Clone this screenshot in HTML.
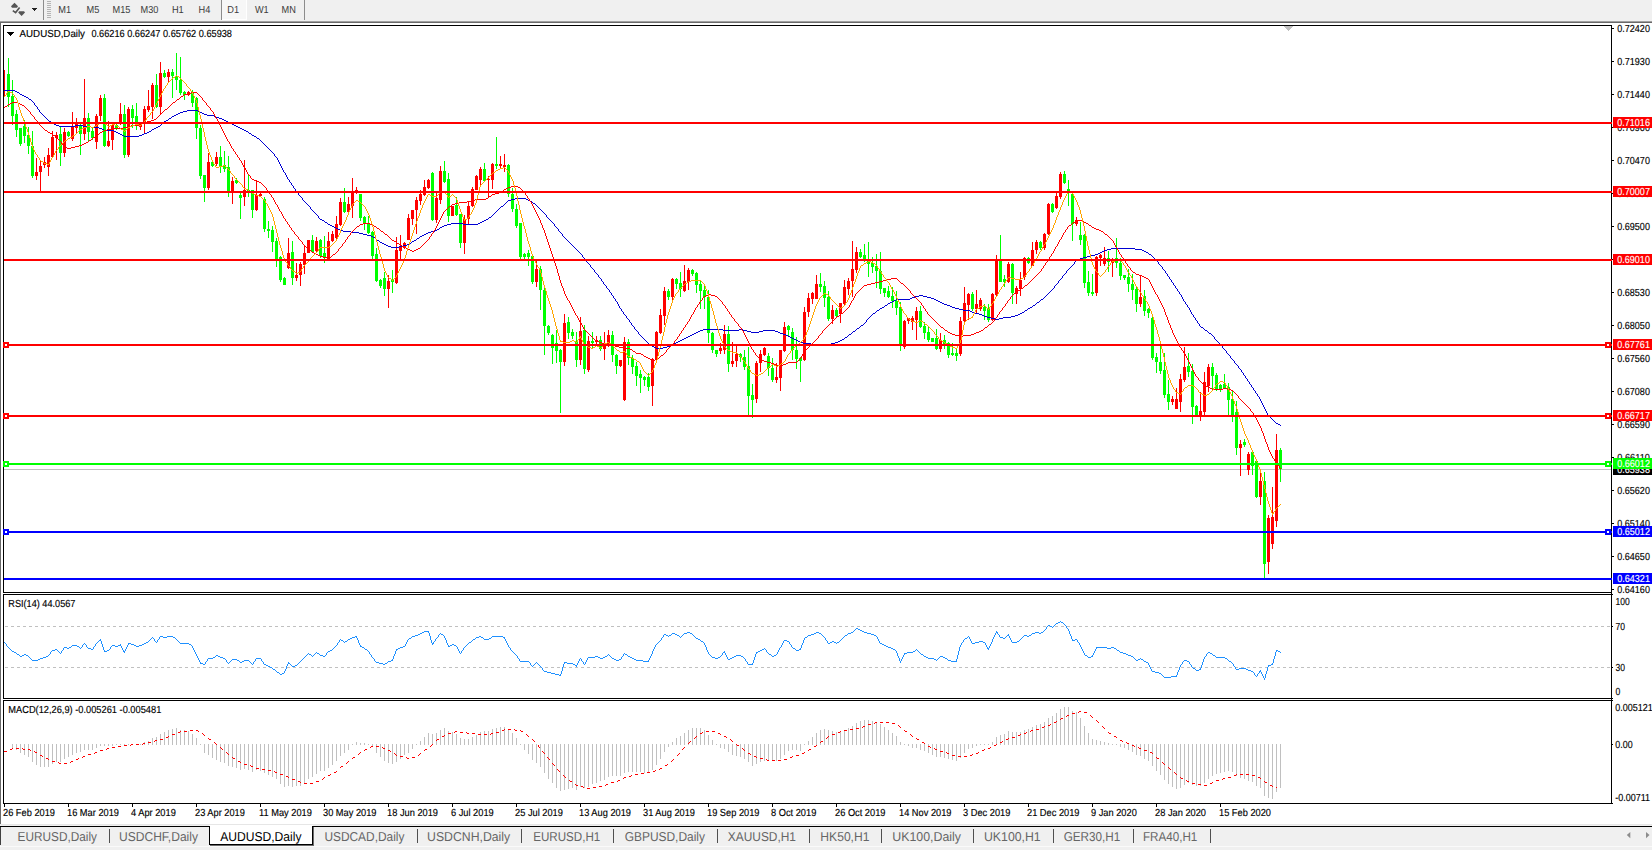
<!DOCTYPE html>
<html><head><meta charset="utf-8"><title>AUDUSD,Daily</title>
<style>
html,body{margin:0;padding:0;background:#fff;overflow:hidden}
svg{display:block;font-family:"Liberation Sans",sans-serif;text-rendering:geometricPrecision}
svg rect,svg polyline,svg line,svg path{shape-rendering:crispEdges}
</style></head><body>
<svg width="1652" height="850" viewBox="0 0 1652 850">
<rect x="0" y="0" width="1652" height="850" fill="#fff"/>
<rect x="0" y="0" width="1652" height="21" fill="#f0f0f0"/>
<rect x="0" y="21" width="1652" height="1" fill="#a0a0a0"/>
<rect x="0" y="22" width="1652" height="1" fill="#696969"/>
<rect x="43" y="0" width="1" height="20" fill="#8c8c8c"/>
<rect x="304" y="0" width="1" height="20" fill="#8c8c8c"/>
<rect x="47" y="1" width="4" height="1" fill="#b4b4b4"/>
<rect x="47" y="3" width="4" height="1" fill="#b4b4b4"/>
<rect x="47" y="5" width="4" height="1" fill="#b4b4b4"/>
<rect x="47" y="7" width="4" height="1" fill="#b4b4b4"/>
<rect x="47" y="9" width="4" height="1" fill="#b4b4b4"/>
<rect x="47" y="11" width="4" height="1" fill="#b4b4b4"/>
<rect x="47" y="13" width="4" height="1" fill="#b4b4b4"/>
<rect x="47" y="15" width="4" height="1" fill="#b4b4b4"/>
<rect x="47" y="17" width="4" height="1" fill="#b4b4b4"/>
<path d="M14.5,2.8 L18,6.3 L17,7.7 L12,7.7 L11,6.3 Z" fill="#555" style="shape-rendering:geometricPrecision"/>
<path d="M21.6,16 L18.2,12.5 L19.2,11.2 L24,11.2 L25,12.5 Z" fill="#555" style="shape-rendering:geometricPrecision"/>
<path d="M12.8,10.6 L15.6,12.6 L19.6,7.5" fill="none" stroke="#555" stroke-width="1.6" style="shape-rendering:geometricPrecision"/>
<path d="M32,8 L37,8 L34.5,11 Z" fill="#222"/>
<rect x="221" y="0" width="1" height="20" fill="#8c8c8c"/>
<rect x="222" y="0" width="24" height="19" fill="#f7f7f7"/>
<rect x="222" y="19" width="25" height="1" fill="#fff"/>
<rect x="246" y="0" width="1" height="20" fill="#fff"/>
<text x="58.3" y="13" font-size="10.2" fill="#3c3c3c" textLength="12.8" lengthAdjust="spacingAndGlyphs">M1</text>
<text x="86.6" y="13" font-size="10.2" fill="#3c3c3c" textLength="12.8" lengthAdjust="spacingAndGlyphs">M5</text>
<text x="112.5" y="13" font-size="10.2" fill="#3c3c3c" textLength="17.9" lengthAdjust="spacingAndGlyphs">M15</text>
<text x="140.5" y="13" font-size="10.2" fill="#3c3c3c" textLength="17.9" lengthAdjust="spacingAndGlyphs">M30</text>
<text x="171.9" y="13" font-size="10.2" fill="#3c3c3c" textLength="11.8" lengthAdjust="spacingAndGlyphs">H1</text>
<text x="198.5" y="13" font-size="10.2" fill="#3c3c3c" textLength="11.8" lengthAdjust="spacingAndGlyphs">H4</text>
<text x="227.3" y="13" font-size="10.2" fill="#3c3c3c" textLength="11.8" lengthAdjust="spacingAndGlyphs">D1</text>
<text x="254.9" y="13" font-size="10.2" fill="#3c3c3c" textLength="13.8" lengthAdjust="spacingAndGlyphs">W1</text>
<text x="281.5" y="13" font-size="10.2" fill="#3c3c3c" textLength="14.3" lengthAdjust="spacingAndGlyphs">MN</text>
<rect x="0" y="23" width="1" height="801" fill="#696969"/>
<rect x="3" y="25" width="1609" height="1" fill="#000"/>
<rect x="3" y="25" width="1" height="568" fill="#000"/>
<rect x="3" y="592" width="1609" height="1" fill="#000"/>
<rect x="3" y="594" width="1609" height="1" fill="#000"/>
<rect x="3" y="594" width="1" height="105" fill="#000"/>
<rect x="3" y="698" width="1609" height="1" fill="#000"/>
<rect x="3" y="700" width="1609" height="1" fill="#000"/>
<rect x="3" y="700" width="1" height="104" fill="#000"/>
<rect x="3" y="803" width="1609" height="1" fill="#000"/>
<rect x="1611" y="25" width="1" height="779" fill="#000"/>
<path d="M1284,26 L1293,26 L1288.5,31 Z" fill="#c0c0c0"/>
<rect x="1612" y="28" width="2" height="1" fill="#000"/>
<text x="1617.3" y="32" font-size="10.2" fill="#000" stroke="#000" stroke-width="0.15" textLength="32.6" lengthAdjust="spacingAndGlyphs">0.72420</text>
<rect x="1612" y="61" width="2" height="1" fill="#000"/>
<text x="1617.3" y="65" font-size="10.2" fill="#000" stroke="#000" stroke-width="0.15" textLength="32.6" lengthAdjust="spacingAndGlyphs">0.71930</text>
<rect x="1612" y="94" width="2" height="1" fill="#000"/>
<text x="1617.3" y="98" font-size="10.2" fill="#000" stroke="#000" stroke-width="0.15" textLength="32.6" lengthAdjust="spacingAndGlyphs">0.71440</text>
<rect x="1612" y="127" width="2" height="1" fill="#000"/>
<text x="1617.3" y="131" font-size="10.2" fill="#000" stroke="#000" stroke-width="0.15" textLength="32.6" lengthAdjust="spacingAndGlyphs">0.70960</text>
<rect x="1612" y="160" width="2" height="1" fill="#000"/>
<text x="1617.3" y="164" font-size="10.2" fill="#000" stroke="#000" stroke-width="0.15" textLength="32.6" lengthAdjust="spacingAndGlyphs">0.70470</text>
<rect x="1612" y="193" width="2" height="1" fill="#000"/>
<text x="1617.3" y="197" font-size="10.2" fill="#000" stroke="#000" stroke-width="0.15" textLength="32.6" lengthAdjust="spacingAndGlyphs">0.69990</text>
<rect x="1612" y="226" width="2" height="1" fill="#000"/>
<text x="1617.3" y="230" font-size="10.2" fill="#000" stroke="#000" stroke-width="0.15" textLength="32.6" lengthAdjust="spacingAndGlyphs">0.69500</text>
<rect x="1612" y="259" width="2" height="1" fill="#000"/>
<text x="1617.3" y="263" font-size="10.2" fill="#000" stroke="#000" stroke-width="0.15" textLength="32.6" lengthAdjust="spacingAndGlyphs">0.69010</text>
<rect x="1612" y="292" width="2" height="1" fill="#000"/>
<text x="1617.3" y="296" font-size="10.2" fill="#000" stroke="#000" stroke-width="0.15" textLength="32.6" lengthAdjust="spacingAndGlyphs">0.68530</text>
<rect x="1612" y="325" width="2" height="1" fill="#000"/>
<text x="1617.3" y="329" font-size="10.2" fill="#000" stroke="#000" stroke-width="0.15" textLength="32.6" lengthAdjust="spacingAndGlyphs">0.68050</text>
<rect x="1612" y="358" width="2" height="1" fill="#000"/>
<text x="1617.3" y="362" font-size="10.2" fill="#000" stroke="#000" stroke-width="0.15" textLength="32.6" lengthAdjust="spacingAndGlyphs">0.67560</text>
<rect x="1612" y="391" width="2" height="1" fill="#000"/>
<text x="1617.3" y="395" font-size="10.2" fill="#000" stroke="#000" stroke-width="0.15" textLength="32.6" lengthAdjust="spacingAndGlyphs">0.67080</text>
<rect x="1612" y="424" width="2" height="1" fill="#000"/>
<text x="1617.3" y="428" font-size="10.2" fill="#000" stroke="#000" stroke-width="0.15" textLength="32.6" lengthAdjust="spacingAndGlyphs">0.66590</text>
<rect x="1612" y="457" width="2" height="1" fill="#000"/>
<text x="1617.3" y="461" font-size="10.2" fill="#000" stroke="#000" stroke-width="0.15" textLength="32.6" lengthAdjust="spacingAndGlyphs">0.66110</text>
<rect x="1612" y="490" width="2" height="1" fill="#000"/>
<text x="1617.3" y="494" font-size="10.2" fill="#000" stroke="#000" stroke-width="0.15" textLength="32.6" lengthAdjust="spacingAndGlyphs">0.65620</text>
<rect x="1612" y="523" width="2" height="1" fill="#000"/>
<text x="1617.3" y="527" font-size="10.2" fill="#000" stroke="#000" stroke-width="0.15" textLength="32.6" lengthAdjust="spacingAndGlyphs">0.65140</text>
<rect x="1612" y="556" width="2" height="1" fill="#000"/>
<text x="1617.3" y="560" font-size="10.2" fill="#000" stroke="#000" stroke-width="0.15" textLength="32.6" lengthAdjust="spacingAndGlyphs">0.64650</text>
<rect x="1612" y="589" width="2" height="1" fill="#000"/>
<text x="1617.3" y="593" font-size="10.2" fill="#000" stroke="#000" stroke-width="0.15" textLength="32.6" lengthAdjust="spacingAndGlyphs">0.64160</text>
<rect x="4" y="469" width="1607" height="1" fill="#c0c0c0"/>
<rect x="4" y="70" width="1" height="26" fill="#ff0000"/>
<rect x="4" y="75" width="1" height="21" fill="#ff0000"/>
<rect x="8" y="58" width="1" height="49" fill="#00ff00"/>
<rect x="7" y="74" width="3" height="23" fill="#00ff00"/>
<rect x="12" y="80" width="1" height="45" fill="#00ff00"/>
<rect x="11" y="96" width="3" height="20" fill="#00ff00"/>
<rect x="16" y="110" width="1" height="27" fill="#00ff00"/>
<rect x="15" y="114" width="3" height="16" fill="#00ff00"/>
<rect x="20" y="128" width="1" height="18" fill="#00ff00"/>
<rect x="19" y="128" width="3" height="16" fill="#00ff00"/>
<rect x="24" y="120" width="1" height="23" fill="#00ff00"/>
<rect x="23" y="126" width="3" height="10" fill="#00ff00"/>
<rect x="28" y="127" width="1" height="27" fill="#00ff00"/>
<rect x="27" y="135" width="3" height="11" fill="#00ff00"/>
<rect x="32" y="131" width="1" height="47" fill="#00ff00"/>
<rect x="31" y="146" width="3" height="30" fill="#00ff00"/>
<rect x="36" y="158" width="1" height="22" fill="#ff0000"/>
<rect x="35" y="172" width="3" height="4" fill="#ff0000"/>
<rect x="40" y="160" width="1" height="32" fill="#ff0000"/>
<rect x="39" y="166" width="3" height="6" fill="#ff0000"/>
<rect x="44" y="157" width="1" height="11" fill="#ff0000"/>
<rect x="43" y="162" width="3" height="3" fill="#ff0000"/>
<rect x="48" y="148" width="1" height="28" fill="#ff0000"/>
<rect x="47" y="155" width="3" height="12" fill="#ff0000"/>
<rect x="52" y="131" width="1" height="27" fill="#ff0000"/>
<rect x="51" y="137" width="3" height="20" fill="#ff0000"/>
<rect x="56" y="132" width="1" height="28" fill="#ff0000"/>
<rect x="55" y="135" width="3" height="3" fill="#ff0000"/>
<rect x="60" y="127" width="1" height="39" fill="#00ff00"/>
<rect x="59" y="134" width="3" height="19" fill="#00ff00"/>
<rect x="64" y="128" width="1" height="29" fill="#ff0000"/>
<rect x="63" y="132" width="3" height="21" fill="#ff0000"/>
<rect x="68" y="131" width="1" height="6" fill="#00ff00"/>
<rect x="67" y="132" width="3" height="4" fill="#00ff00"/>
<rect x="72" y="112" width="1" height="29" fill="#ff0000"/>
<rect x="71" y="127" width="3" height="12" fill="#ff0000"/>
<rect x="76" y="118" width="1" height="16" fill="#ff0000"/>
<rect x="75" y="124" width="3" height="4" fill="#ff0000"/>
<rect x="80" y="124" width="1" height="31" fill="#00ff00"/>
<rect x="79" y="125" width="3" height="9" fill="#00ff00"/>
<rect x="84" y="79" width="1" height="61" fill="#ff0000"/>
<rect x="83" y="118" width="3" height="16" fill="#ff0000"/>
<rect x="88" y="113" width="1" height="28" fill="#00ff00"/>
<rect x="87" y="118" width="3" height="14" fill="#00ff00"/>
<rect x="92" y="128" width="1" height="12" fill="#00ff00"/>
<rect x="91" y="131" width="3" height="7" fill="#00ff00"/>
<rect x="96" y="114" width="1" height="35" fill="#ff0000"/>
<rect x="95" y="116" width="3" height="26" fill="#ff0000"/>
<rect x="100" y="95" width="1" height="26" fill="#ff0000"/>
<rect x="99" y="98" width="3" height="18" fill="#ff0000"/>
<rect x="104" y="94" width="1" height="53" fill="#00ff00"/>
<rect x="103" y="98" width="3" height="48" fill="#00ff00"/>
<rect x="108" y="121" width="1" height="26" fill="#ff0000"/>
<rect x="107" y="141" width="3" height="5" fill="#ff0000"/>
<rect x="112" y="123" width="1" height="27" fill="#ff0000"/>
<rect x="111" y="125" width="3" height="15" fill="#ff0000"/>
<rect x="116" y="123" width="1" height="7" fill="#00ff00"/>
<rect x="115" y="125" width="3" height="3" fill="#00ff00"/>
<rect x="120" y="103" width="1" height="22" fill="#ff0000"/>
<rect x="119" y="114" width="3" height="10" fill="#ff0000"/>
<rect x="124" y="105" width="1" height="53" fill="#00ff00"/>
<rect x="123" y="114" width="3" height="41" fill="#00ff00"/>
<rect x="128" y="107" width="1" height="50" fill="#ff0000"/>
<rect x="127" y="109" width="3" height="46" fill="#ff0000"/>
<rect x="132" y="105" width="1" height="23" fill="#00ff00"/>
<rect x="131" y="109" width="3" height="9" fill="#00ff00"/>
<rect x="136" y="103" width="1" height="27" fill="#00ff00"/>
<rect x="135" y="116" width="3" height="7" fill="#00ff00"/>
<rect x="140" y="123" width="1" height="7" fill="#ff0000"/>
<rect x="139" y="124" width="3" height="3" fill="#ff0000"/>
<rect x="144" y="106" width="1" height="28" fill="#ff0000"/>
<rect x="143" y="109" width="3" height="14" fill="#ff0000"/>
<rect x="148" y="90" width="1" height="22" fill="#ff0000"/>
<rect x="147" y="106" width="3" height="4" fill="#ff0000"/>
<rect x="152" y="83" width="1" height="36" fill="#ff0000"/>
<rect x="151" y="85" width="3" height="22" fill="#ff0000"/>
<rect x="156" y="74" width="1" height="34" fill="#00ff00"/>
<rect x="155" y="85" width="3" height="22" fill="#00ff00"/>
<rect x="160" y="62" width="1" height="53" fill="#ff0000"/>
<rect x="159" y="73" width="3" height="34" fill="#ff0000"/>
<rect x="164" y="70" width="1" height="8" fill="#00ff00"/>
<rect x="163" y="73" width="3" height="4" fill="#00ff00"/>
<rect x="168" y="69" width="1" height="13" fill="#ff0000"/>
<rect x="167" y="72" width="3" height="5" fill="#ff0000"/>
<rect x="172" y="69" width="1" height="29" fill="#00ff00"/>
<rect x="171" y="72" width="3" height="4" fill="#00ff00"/>
<rect x="176" y="53" width="1" height="37" fill="#00ff00"/>
<rect x="175" y="76" width="3" height="4" fill="#00ff00"/>
<rect x="180" y="57" width="1" height="38" fill="#00ff00"/>
<rect x="179" y="80" width="3" height="13" fill="#00ff00"/>
<rect x="184" y="91" width="1" height="9" fill="#00ff00"/>
<rect x="183" y="92" width="3" height="3" fill="#00ff00"/>
<rect x="188" y="91" width="1" height="5" fill="#ff0000"/>
<rect x="187" y="92" width="3" height="3" fill="#ff0000"/>
<rect x="192" y="90" width="1" height="17" fill="#00ff00"/>
<rect x="191" y="93" width="3" height="10" fill="#00ff00"/>
<rect x="196" y="97" width="1" height="42" fill="#00ff00"/>
<rect x="195" y="98" width="3" height="30" fill="#00ff00"/>
<rect x="200" y="125" width="1" height="54" fill="#00ff00"/>
<rect x="199" y="128" width="3" height="48" fill="#00ff00"/>
<rect x="204" y="175" width="1" height="27" fill="#00ff00"/>
<rect x="203" y="175" width="3" height="13" fill="#00ff00"/>
<rect x="208" y="153" width="1" height="37" fill="#ff0000"/>
<rect x="207" y="162" width="3" height="26" fill="#ff0000"/>
<rect x="212" y="160" width="1" height="7" fill="#00ff00"/>
<rect x="211" y="162" width="3" height="4" fill="#00ff00"/>
<rect x="216" y="152" width="1" height="14" fill="#ff0000"/>
<rect x="215" y="157" width="3" height="7" fill="#ff0000"/>
<rect x="220" y="146" width="1" height="27" fill="#00ff00"/>
<rect x="219" y="157" width="3" height="10" fill="#00ff00"/>
<rect x="224" y="151" width="1" height="21" fill="#00ff00"/>
<rect x="223" y="165" width="3" height="4" fill="#00ff00"/>
<rect x="228" y="156" width="1" height="41" fill="#00ff00"/>
<rect x="227" y="167" width="3" height="24" fill="#00ff00"/>
<rect x="232" y="177" width="1" height="27" fill="#ff0000"/>
<rect x="231" y="181" width="3" height="10" fill="#ff0000"/>
<rect x="236" y="178" width="1" height="6" fill="#00ff00"/>
<rect x="235" y="180" width="3" height="3" fill="#00ff00"/>
<rect x="240" y="192" width="1" height="27" fill="#00ff00"/>
<rect x="239" y="195" width="3" height="3" fill="#00ff00"/>
<rect x="244" y="160" width="1" height="46" fill="#ff0000"/>
<rect x="243" y="190" width="3" height="7" fill="#ff0000"/>
<rect x="248" y="174" width="1" height="23" fill="#00ff00"/>
<rect x="247" y="190" width="3" height="2" fill="#00ff00"/>
<rect x="252" y="190" width="1" height="28" fill="#00ff00"/>
<rect x="251" y="190" width="3" height="20" fill="#00ff00"/>
<rect x="256" y="180" width="1" height="31" fill="#ff0000"/>
<rect x="255" y="195" width="3" height="15" fill="#ff0000"/>
<rect x="260" y="193" width="1" height="4" fill="#ff0000"/>
<rect x="259" y="194" width="3" height="2" fill="#ff0000"/>
<rect x="264" y="197" width="1" height="35" fill="#00ff00"/>
<rect x="263" y="199" width="3" height="30" fill="#00ff00"/>
<rect x="268" y="221" width="1" height="17" fill="#00ff00"/>
<rect x="267" y="229" width="3" height="2" fill="#00ff00"/>
<rect x="272" y="226" width="1" height="26" fill="#00ff00"/>
<rect x="271" y="230" width="3" height="12" fill="#00ff00"/>
<rect x="276" y="238" width="1" height="29" fill="#00ff00"/>
<rect x="275" y="241" width="3" height="18" fill="#00ff00"/>
<rect x="280" y="256" width="1" height="26" fill="#00ff00"/>
<rect x="279" y="257" width="3" height="23" fill="#00ff00"/>
<rect x="284" y="277" width="1" height="8" fill="#00ff00"/>
<rect x="283" y="278" width="3" height="7" fill="#00ff00"/>
<rect x="288" y="238" width="1" height="31" fill="#ff0000"/>
<rect x="287" y="253" width="3" height="15" fill="#ff0000"/>
<rect x="292" y="241" width="1" height="44" fill="#00ff00"/>
<rect x="291" y="252" width="3" height="26" fill="#00ff00"/>
<rect x="296" y="263" width="1" height="18" fill="#ff0000"/>
<rect x="295" y="275" width="3" height="3" fill="#ff0000"/>
<rect x="300" y="262" width="1" height="24" fill="#ff0000"/>
<rect x="299" y="264" width="3" height="11" fill="#ff0000"/>
<rect x="304" y="246" width="1" height="28" fill="#ff0000"/>
<rect x="303" y="253" width="3" height="12" fill="#ff0000"/>
<rect x="308" y="240" width="1" height="13" fill="#ff0000"/>
<rect x="307" y="240" width="3" height="13" fill="#ff0000"/>
<rect x="312" y="235" width="1" height="18" fill="#00ff00"/>
<rect x="311" y="240" width="3" height="12" fill="#00ff00"/>
<rect x="316" y="237" width="1" height="15" fill="#ff0000"/>
<rect x="315" y="241" width="3" height="10" fill="#ff0000"/>
<rect x="320" y="239" width="1" height="19" fill="#00ff00"/>
<rect x="319" y="240" width="3" height="16" fill="#00ff00"/>
<rect x="324" y="236" width="1" height="27" fill="#00ff00"/>
<rect x="323" y="253" width="3" height="5" fill="#00ff00"/>
<rect x="328" y="232" width="1" height="27" fill="#ff0000"/>
<rect x="327" y="241" width="3" height="18" fill="#ff0000"/>
<rect x="332" y="231" width="1" height="11" fill="#ff0000"/>
<rect x="331" y="234" width="3" height="7" fill="#ff0000"/>
<rect x="336" y="216" width="1" height="24" fill="#ff0000"/>
<rect x="335" y="224" width="3" height="14" fill="#ff0000"/>
<rect x="340" y="198" width="1" height="28" fill="#ff0000"/>
<rect x="339" y="202" width="3" height="23" fill="#ff0000"/>
<rect x="344" y="188" width="1" height="25" fill="#00ff00"/>
<rect x="343" y="202" width="3" height="10" fill="#00ff00"/>
<rect x="348" y="197" width="1" height="17" fill="#ff0000"/>
<rect x="347" y="204" width="3" height="8" fill="#ff0000"/>
<rect x="352" y="178" width="1" height="40" fill="#ff0000"/>
<rect x="351" y="192" width="3" height="14" fill="#ff0000"/>
<rect x="356" y="187" width="1" height="7" fill="#ff0000"/>
<rect x="355" y="190" width="3" height="2" fill="#ff0000"/>
<rect x="360" y="194" width="1" height="27" fill="#00ff00"/>
<rect x="359" y="194" width="3" height="24" fill="#00ff00"/>
<rect x="364" y="216" width="1" height="14" fill="#00ff00"/>
<rect x="363" y="217" width="3" height="7" fill="#00ff00"/>
<rect x="368" y="216" width="1" height="18" fill="#00ff00"/>
<rect x="367" y="224" width="3" height="9" fill="#00ff00"/>
<rect x="372" y="231" width="1" height="28" fill="#00ff00"/>
<rect x="371" y="232" width="3" height="24" fill="#00ff00"/>
<rect x="376" y="248" width="1" height="34" fill="#00ff00"/>
<rect x="375" y="254" width="3" height="27" fill="#00ff00"/>
<rect x="380" y="279" width="1" height="9" fill="#00ff00"/>
<rect x="379" y="280" width="3" height="6" fill="#00ff00"/>
<rect x="384" y="272" width="1" height="24" fill="#00ff00"/>
<rect x="383" y="278" width="3" height="11" fill="#00ff00"/>
<rect x="388" y="275" width="1" height="33" fill="#ff0000"/>
<rect x="387" y="281" width="3" height="8" fill="#ff0000"/>
<rect x="392" y="270" width="1" height="23" fill="#00ff00"/>
<rect x="391" y="280" width="3" height="2" fill="#00ff00"/>
<rect x="396" y="237" width="1" height="47" fill="#ff0000"/>
<rect x="395" y="250" width="3" height="33" fill="#ff0000"/>
<rect x="400" y="235" width="1" height="24" fill="#ff0000"/>
<rect x="399" y="246" width="3" height="5" fill="#ff0000"/>
<rect x="404" y="242" width="1" height="7" fill="#ff0000"/>
<rect x="403" y="243" width="3" height="5" fill="#ff0000"/>
<rect x="408" y="214" width="1" height="26" fill="#ff0000"/>
<rect x="407" y="218" width="3" height="22" fill="#ff0000"/>
<rect x="412" y="210" width="1" height="15" fill="#ff0000"/>
<rect x="411" y="210" width="3" height="9" fill="#ff0000"/>
<rect x="416" y="197" width="1" height="37" fill="#ff0000"/>
<rect x="415" y="200" width="3" height="10" fill="#ff0000"/>
<rect x="420" y="190" width="1" height="15" fill="#ff0000"/>
<rect x="419" y="194" width="3" height="7" fill="#ff0000"/>
<rect x="424" y="180" width="1" height="16" fill="#ff0000"/>
<rect x="423" y="187" width="3" height="8" fill="#ff0000"/>
<rect x="428" y="179" width="1" height="10" fill="#ff0000"/>
<rect x="427" y="180" width="3" height="8" fill="#ff0000"/>
<rect x="432" y="172" width="1" height="49" fill="#00ff00"/>
<rect x="431" y="173" width="3" height="47" fill="#00ff00"/>
<rect x="436" y="192" width="1" height="31" fill="#ff0000"/>
<rect x="435" y="198" width="3" height="22" fill="#ff0000"/>
<rect x="440" y="166" width="1" height="38" fill="#ff0000"/>
<rect x="439" y="171" width="3" height="29" fill="#ff0000"/>
<rect x="444" y="161" width="1" height="22" fill="#00ff00"/>
<rect x="443" y="171" width="3" height="11" fill="#00ff00"/>
<rect x="448" y="173" width="1" height="49" fill="#00ff00"/>
<rect x="447" y="179" width="3" height="37" fill="#00ff00"/>
<rect x="452" y="206" width="1" height="10" fill="#ff0000"/>
<rect x="451" y="206" width="3" height="10" fill="#ff0000"/>
<rect x="456" y="197" width="1" height="19" fill="#00ff00"/>
<rect x="455" y="205" width="3" height="10" fill="#00ff00"/>
<rect x="460" y="214" width="1" height="34" fill="#00ff00"/>
<rect x="459" y="214" width="3" height="29" fill="#00ff00"/>
<rect x="464" y="215" width="1" height="39" fill="#ff0000"/>
<rect x="463" y="219" width="3" height="24" fill="#ff0000"/>
<rect x="468" y="201" width="1" height="23" fill="#ff0000"/>
<rect x="467" y="206" width="3" height="13" fill="#ff0000"/>
<rect x="472" y="187" width="1" height="20" fill="#ff0000"/>
<rect x="471" y="189" width="3" height="17" fill="#ff0000"/>
<rect x="476" y="175" width="1" height="15" fill="#ff0000"/>
<rect x="475" y="176" width="3" height="14" fill="#ff0000"/>
<rect x="480" y="167" width="1" height="19" fill="#ff0000"/>
<rect x="479" y="169" width="3" height="11" fill="#ff0000"/>
<rect x="484" y="163" width="1" height="19" fill="#00ff00"/>
<rect x="483" y="169" width="3" height="12" fill="#00ff00"/>
<rect x="488" y="176" width="1" height="22" fill="#ff0000"/>
<rect x="487" y="179" width="3" height="1" fill="#ff0000"/>
<rect x="492" y="163" width="1" height="26" fill="#ff0000"/>
<rect x="491" y="164" width="3" height="16" fill="#ff0000"/>
<rect x="496" y="137" width="1" height="32" fill="#00ff00"/>
<rect x="495" y="164" width="3" height="2" fill="#00ff00"/>
<rect x="500" y="156" width="1" height="13" fill="#ff0000"/>
<rect x="499" y="164" width="3" height="2" fill="#ff0000"/>
<rect x="504" y="154" width="1" height="18" fill="#ff0000"/>
<rect x="503" y="165" width="3" height="2" fill="#ff0000"/>
<rect x="508" y="164" width="1" height="33" fill="#00ff00"/>
<rect x="507" y="165" width="3" height="29" fill="#00ff00"/>
<rect x="512" y="188" width="1" height="24" fill="#00ff00"/>
<rect x="511" y="194" width="3" height="15" fill="#00ff00"/>
<rect x="516" y="204" width="1" height="24" fill="#00ff00"/>
<rect x="515" y="209" width="3" height="17" fill="#00ff00"/>
<rect x="520" y="223" width="1" height="36" fill="#00ff00"/>
<rect x="519" y="223" width="3" height="34" fill="#00ff00"/>
<rect x="524" y="253" width="1" height="6" fill="#00ff00"/>
<rect x="523" y="254" width="3" height="3" fill="#00ff00"/>
<rect x="528" y="250" width="1" height="16" fill="#00ff00"/>
<rect x="527" y="253" width="3" height="4" fill="#00ff00"/>
<rect x="532" y="255" width="1" height="29" fill="#00ff00"/>
<rect x="531" y="256" width="3" height="26" fill="#00ff00"/>
<rect x="536" y="260" width="1" height="27" fill="#ff0000"/>
<rect x="535" y="269" width="3" height="13" fill="#ff0000"/>
<rect x="540" y="266" width="1" height="44" fill="#00ff00"/>
<rect x="539" y="269" width="3" height="21" fill="#00ff00"/>
<rect x="544" y="287" width="1" height="68" fill="#00ff00"/>
<rect x="543" y="290" width="3" height="36" fill="#00ff00"/>
<rect x="548" y="325" width="1" height="10" fill="#00ff00"/>
<rect x="547" y="326" width="3" height="7" fill="#00ff00"/>
<rect x="552" y="334" width="1" height="30" fill="#00ff00"/>
<rect x="551" y="335" width="3" height="13" fill="#00ff00"/>
<rect x="556" y="330" width="1" height="33" fill="#00ff00"/>
<rect x="555" y="343" width="3" height="8" fill="#00ff00"/>
<rect x="560" y="349" width="1" height="64" fill="#00ff00"/>
<rect x="559" y="350" width="3" height="12" fill="#00ff00"/>
<rect x="564" y="314" width="1" height="52" fill="#ff0000"/>
<rect x="563" y="323" width="3" height="39" fill="#ff0000"/>
<rect x="568" y="317" width="1" height="22" fill="#00ff00"/>
<rect x="567" y="322" width="3" height="11" fill="#00ff00"/>
<rect x="572" y="329" width="1" height="10" fill="#00ff00"/>
<rect x="571" y="332" width="3" height="4" fill="#00ff00"/>
<rect x="576" y="332" width="1" height="35" fill="#00ff00"/>
<rect x="575" y="341" width="3" height="19" fill="#00ff00"/>
<rect x="580" y="317" width="1" height="48" fill="#ff0000"/>
<rect x="579" y="331" width="3" height="29" fill="#ff0000"/>
<rect x="584" y="325" width="1" height="49" fill="#00ff00"/>
<rect x="583" y="330" width="3" height="39" fill="#00ff00"/>
<rect x="588" y="336" width="1" height="36" fill="#ff0000"/>
<rect x="587" y="341" width="3" height="29" fill="#ff0000"/>
<rect x="592" y="332" width="1" height="17" fill="#00ff00"/>
<rect x="591" y="341" width="3" height="2" fill="#00ff00"/>
<rect x="596" y="336" width="1" height="8" fill="#ff0000"/>
<rect x="595" y="340" width="3" height="2" fill="#ff0000"/>
<rect x="600" y="336" width="1" height="15" fill="#00ff00"/>
<rect x="599" y="340" width="3" height="9" fill="#00ff00"/>
<rect x="604" y="332" width="1" height="28" fill="#ff0000"/>
<rect x="603" y="344" width="3" height="5" fill="#ff0000"/>
<rect x="608" y="330" width="1" height="17" fill="#ff0000"/>
<rect x="607" y="335" width="3" height="9" fill="#ff0000"/>
<rect x="612" y="331" width="1" height="31" fill="#00ff00"/>
<rect x="611" y="335" width="3" height="20" fill="#00ff00"/>
<rect x="616" y="354" width="1" height="20" fill="#00ff00"/>
<rect x="615" y="355" width="3" height="11" fill="#00ff00"/>
<rect x="620" y="360" width="1" height="7" fill="#ff0000"/>
<rect x="619" y="360" width="3" height="6" fill="#ff0000"/>
<rect x="624" y="337" width="1" height="64" fill="#ff0000"/>
<rect x="623" y="342" width="3" height="58" fill="#ff0000"/>
<rect x="628" y="339" width="1" height="26" fill="#00ff00"/>
<rect x="627" y="342" width="3" height="16" fill="#00ff00"/>
<rect x="632" y="355" width="1" height="19" fill="#00ff00"/>
<rect x="631" y="358" width="3" height="9" fill="#00ff00"/>
<rect x="636" y="362" width="1" height="24" fill="#00ff00"/>
<rect x="635" y="366" width="3" height="10" fill="#00ff00"/>
<rect x="640" y="370" width="1" height="23" fill="#00ff00"/>
<rect x="639" y="374" width="3" height="4" fill="#00ff00"/>
<rect x="644" y="376" width="1" height="10" fill="#00ff00"/>
<rect x="643" y="377" width="3" height="3" fill="#00ff00"/>
<rect x="648" y="373" width="1" height="18" fill="#00ff00"/>
<rect x="647" y="377" width="3" height="10" fill="#00ff00"/>
<rect x="652" y="358" width="1" height="48" fill="#ff0000"/>
<rect x="651" y="359" width="3" height="27" fill="#ff0000"/>
<rect x="656" y="331" width="1" height="31" fill="#ff0000"/>
<rect x="655" y="332" width="3" height="27" fill="#ff0000"/>
<rect x="660" y="309" width="1" height="25" fill="#ff0000"/>
<rect x="659" y="315" width="3" height="18" fill="#ff0000"/>
<rect x="664" y="287" width="1" height="38" fill="#ff0000"/>
<rect x="663" y="291" width="3" height="25" fill="#ff0000"/>
<rect x="668" y="289" width="1" height="11" fill="#00ff00"/>
<rect x="667" y="291" width="3" height="6" fill="#00ff00"/>
<rect x="672" y="278" width="1" height="24" fill="#ff0000"/>
<rect x="671" y="279" width="3" height="18" fill="#ff0000"/>
<rect x="676" y="278" width="1" height="11" fill="#00ff00"/>
<rect x="675" y="279" width="3" height="5" fill="#00ff00"/>
<rect x="680" y="272" width="1" height="25" fill="#00ff00"/>
<rect x="679" y="283" width="3" height="6" fill="#00ff00"/>
<rect x="684" y="265" width="1" height="27" fill="#ff0000"/>
<rect x="683" y="281" width="3" height="10" fill="#ff0000"/>
<rect x="688" y="268" width="1" height="22" fill="#ff0000"/>
<rect x="687" y="270" width="3" height="12" fill="#ff0000"/>
<rect x="692" y="269" width="1" height="7" fill="#00ff00"/>
<rect x="691" y="270" width="3" height="4" fill="#00ff00"/>
<rect x="696" y="272" width="1" height="21" fill="#00ff00"/>
<rect x="695" y="273" width="3" height="12" fill="#00ff00"/>
<rect x="700" y="281" width="1" height="28" fill="#00ff00"/>
<rect x="699" y="284" width="3" height="7" fill="#00ff00"/>
<rect x="704" y="284" width="1" height="25" fill="#00ff00"/>
<rect x="703" y="290" width="3" height="7" fill="#00ff00"/>
<rect x="708" y="290" width="1" height="53" fill="#00ff00"/>
<rect x="707" y="297" width="3" height="36" fill="#00ff00"/>
<rect x="712" y="332" width="1" height="21" fill="#00ff00"/>
<rect x="711" y="333" width="3" height="17" fill="#00ff00"/>
<rect x="716" y="350" width="1" height="7" fill="#00ff00"/>
<rect x="715" y="350" width="3" height="4" fill="#00ff00"/>
<rect x="720" y="343" width="1" height="11" fill="#ff0000"/>
<rect x="719" y="348" width="3" height="3" fill="#ff0000"/>
<rect x="724" y="325" width="1" height="29" fill="#ff0000"/>
<rect x="723" y="334" width="3" height="16" fill="#ff0000"/>
<rect x="728" y="326" width="1" height="46" fill="#00ff00"/>
<rect x="727" y="334" width="3" height="30" fill="#00ff00"/>
<rect x="732" y="342" width="1" height="25" fill="#ff0000"/>
<rect x="731" y="361" width="3" height="3" fill="#ff0000"/>
<rect x="736" y="344" width="1" height="23" fill="#ff0000"/>
<rect x="735" y="354" width="3" height="7" fill="#ff0000"/>
<rect x="740" y="353" width="1" height="9" fill="#00ff00"/>
<rect x="739" y="354" width="3" height="3" fill="#00ff00"/>
<rect x="744" y="350" width="1" height="20" fill="#00ff00"/>
<rect x="743" y="357" width="3" height="10" fill="#00ff00"/>
<rect x="748" y="347" width="1" height="68" fill="#00ff00"/>
<rect x="747" y="366" width="3" height="30" fill="#00ff00"/>
<rect x="752" y="384" width="1" height="34" fill="#00ff00"/>
<rect x="751" y="395" width="3" height="5" fill="#00ff00"/>
<rect x="756" y="361" width="1" height="42" fill="#ff0000"/>
<rect x="755" y="363" width="3" height="36" fill="#ff0000"/>
<rect x="760" y="350" width="1" height="22" fill="#ff0000"/>
<rect x="759" y="354" width="3" height="9" fill="#ff0000"/>
<rect x="764" y="347" width="1" height="9" fill="#ff0000"/>
<rect x="763" y="348" width="3" height="7" fill="#ff0000"/>
<rect x="768" y="353" width="1" height="23" fill="#00ff00"/>
<rect x="767" y="356" width="3" height="12" fill="#00ff00"/>
<rect x="772" y="358" width="1" height="24" fill="#00ff00"/>
<rect x="771" y="368" width="3" height="12" fill="#00ff00"/>
<rect x="776" y="363" width="1" height="20" fill="#ff0000"/>
<rect x="775" y="377" width="3" height="3" fill="#ff0000"/>
<rect x="780" y="350" width="1" height="41" fill="#ff0000"/>
<rect x="779" y="350" width="3" height="28" fill="#ff0000"/>
<rect x="784" y="322" width="1" height="30" fill="#ff0000"/>
<rect x="783" y="327" width="3" height="24" fill="#ff0000"/>
<rect x="788" y="325" width="1" height="12" fill="#00ff00"/>
<rect x="787" y="326" width="3" height="4" fill="#00ff00"/>
<rect x="792" y="328" width="1" height="32" fill="#00ff00"/>
<rect x="791" y="332" width="3" height="18" fill="#00ff00"/>
<rect x="796" y="337" width="1" height="32" fill="#00ff00"/>
<rect x="795" y="350" width="3" height="9" fill="#00ff00"/>
<rect x="800" y="357" width="1" height="25" fill="#00ff00"/>
<rect x="799" y="358" width="3" height="3" fill="#00ff00"/>
<rect x="804" y="307" width="1" height="54" fill="#ff0000"/>
<rect x="803" y="312" width="3" height="48" fill="#ff0000"/>
<rect x="808" y="293" width="1" height="24" fill="#ff0000"/>
<rect x="807" y="298" width="3" height="14" fill="#ff0000"/>
<rect x="812" y="292" width="1" height="12" fill="#ff0000"/>
<rect x="811" y="293" width="3" height="6" fill="#ff0000"/>
<rect x="816" y="275" width="1" height="24" fill="#ff0000"/>
<rect x="815" y="284" width="3" height="15" fill="#ff0000"/>
<rect x="820" y="273" width="1" height="19" fill="#00ff00"/>
<rect x="819" y="284" width="3" height="3" fill="#00ff00"/>
<rect x="824" y="281" width="1" height="26" fill="#00ff00"/>
<rect x="823" y="286" width="3" height="12" fill="#00ff00"/>
<rect x="828" y="291" width="1" height="30" fill="#00ff00"/>
<rect x="827" y="297" width="3" height="22" fill="#00ff00"/>
<rect x="832" y="305" width="1" height="19" fill="#ff0000"/>
<rect x="831" y="310" width="3" height="9" fill="#ff0000"/>
<rect x="836" y="308" width="1" height="9" fill="#00ff00"/>
<rect x="835" y="310" width="3" height="6" fill="#00ff00"/>
<rect x="840" y="303" width="1" height="20" fill="#ff0000"/>
<rect x="839" y="303" width="3" height="11" fill="#ff0000"/>
<rect x="844" y="280" width="1" height="25" fill="#ff0000"/>
<rect x="843" y="287" width="3" height="17" fill="#ff0000"/>
<rect x="848" y="278" width="1" height="17" fill="#ff0000"/>
<rect x="847" y="281" width="3" height="8" fill="#ff0000"/>
<rect x="852" y="241" width="1" height="56" fill="#ff0000"/>
<rect x="851" y="269" width="3" height="12" fill="#ff0000"/>
<rect x="856" y="247" width="1" height="26" fill="#ff0000"/>
<rect x="855" y="252" width="3" height="18" fill="#ff0000"/>
<rect x="860" y="249" width="1" height="9" fill="#00ff00"/>
<rect x="859" y="252" width="3" height="5" fill="#00ff00"/>
<rect x="864" y="244" width="1" height="18" fill="#00ff00"/>
<rect x="863" y="255" width="3" height="5" fill="#00ff00"/>
<rect x="868" y="242" width="1" height="35" fill="#00ff00"/>
<rect x="867" y="260" width="3" height="4" fill="#00ff00"/>
<rect x="872" y="257" width="1" height="16" fill="#00ff00"/>
<rect x="871" y="263" width="3" height="4" fill="#00ff00"/>
<rect x="876" y="254" width="1" height="34" fill="#00ff00"/>
<rect x="875" y="266" width="3" height="5" fill="#00ff00"/>
<rect x="880" y="252" width="1" height="42" fill="#00ff00"/>
<rect x="879" y="271" width="3" height="18" fill="#00ff00"/>
<rect x="884" y="288" width="1" height="9" fill="#00ff00"/>
<rect x="883" y="288" width="3" height="5" fill="#00ff00"/>
<rect x="888" y="286" width="1" height="12" fill="#00ff00"/>
<rect x="887" y="291" width="3" height="6" fill="#00ff00"/>
<rect x="892" y="287" width="1" height="21" fill="#00ff00"/>
<rect x="891" y="296" width="3" height="5" fill="#00ff00"/>
<rect x="896" y="291" width="1" height="24" fill="#00ff00"/>
<rect x="895" y="301" width="3" height="7" fill="#00ff00"/>
<rect x="900" y="302" width="1" height="49" fill="#00ff00"/>
<rect x="899" y="307" width="3" height="39" fill="#00ff00"/>
<rect x="904" y="320" width="1" height="29" fill="#ff0000"/>
<rect x="903" y="321" width="3" height="26" fill="#ff0000"/>
<rect x="908" y="318" width="1" height="6" fill="#ff0000"/>
<rect x="907" y="318" width="3" height="3" fill="#ff0000"/>
<rect x="912" y="316" width="1" height="14" fill="#ff0000"/>
<rect x="911" y="318" width="3" height="4" fill="#ff0000"/>
<rect x="916" y="307" width="1" height="33" fill="#ff0000"/>
<rect x="915" y="311" width="3" height="9" fill="#ff0000"/>
<rect x="920" y="306" width="1" height="22" fill="#00ff00"/>
<rect x="919" y="311" width="3" height="16" fill="#00ff00"/>
<rect x="924" y="322" width="1" height="17" fill="#00ff00"/>
<rect x="923" y="326" width="3" height="7" fill="#00ff00"/>
<rect x="928" y="326" width="1" height="16" fill="#00ff00"/>
<rect x="927" y="332" width="3" height="8" fill="#00ff00"/>
<rect x="932" y="338" width="1" height="4" fill="#00ff00"/>
<rect x="931" y="338" width="3" height="4" fill="#00ff00"/>
<rect x="936" y="329" width="1" height="21" fill="#00ff00"/>
<rect x="935" y="338" width="3" height="11" fill="#00ff00"/>
<rect x="940" y="333" width="1" height="19" fill="#ff0000"/>
<rect x="939" y="340" width="3" height="9" fill="#ff0000"/>
<rect x="944" y="335" width="1" height="14" fill="#00ff00"/>
<rect x="943" y="340" width="3" height="4" fill="#00ff00"/>
<rect x="948" y="342" width="1" height="16" fill="#00ff00"/>
<rect x="947" y="343" width="3" height="12" fill="#00ff00"/>
<rect x="952" y="343" width="1" height="13" fill="#00ff00"/>
<rect x="951" y="353" width="3" height="2" fill="#00ff00"/>
<rect x="956" y="348" width="1" height="13" fill="#00ff00"/>
<rect x="955" y="353" width="3" height="3" fill="#00ff00"/>
<rect x="960" y="317" width="1" height="39" fill="#ff0000"/>
<rect x="959" y="321" width="3" height="33" fill="#ff0000"/>
<rect x="964" y="287" width="1" height="35" fill="#ff0000"/>
<rect x="963" y="303" width="3" height="18" fill="#ff0000"/>
<rect x="968" y="293" width="1" height="27" fill="#ff0000"/>
<rect x="967" y="294" width="3" height="11" fill="#ff0000"/>
<rect x="972" y="292" width="1" height="19" fill="#00ff00"/>
<rect x="971" y="294" width="3" height="15" fill="#00ff00"/>
<rect x="976" y="290" width="1" height="24" fill="#ff0000"/>
<rect x="975" y="304" width="3" height="5" fill="#ff0000"/>
<rect x="980" y="298" width="1" height="13" fill="#ff0000"/>
<rect x="979" y="300" width="3" height="9" fill="#ff0000"/>
<rect x="984" y="304" width="1" height="16" fill="#00ff00"/>
<rect x="983" y="307" width="3" height="4" fill="#00ff00"/>
<rect x="988" y="304" width="1" height="18" fill="#00ff00"/>
<rect x="987" y="309" width="3" height="11" fill="#00ff00"/>
<rect x="992" y="293" width="1" height="28" fill="#ff0000"/>
<rect x="991" y="294" width="3" height="26" fill="#ff0000"/>
<rect x="996" y="255" width="1" height="41" fill="#ff0000"/>
<rect x="995" y="260" width="3" height="35" fill="#ff0000"/>
<rect x="1000" y="235" width="1" height="47" fill="#00ff00"/>
<rect x="999" y="260" width="3" height="22" fill="#00ff00"/>
<rect x="1004" y="275" width="1" height="12" fill="#00ff00"/>
<rect x="1003" y="279" width="3" height="3" fill="#00ff00"/>
<rect x="1008" y="262" width="1" height="21" fill="#ff0000"/>
<rect x="1007" y="264" width="3" height="18" fill="#ff0000"/>
<rect x="1012" y="263" width="1" height="41" fill="#00ff00"/>
<rect x="1011" y="264" width="3" height="29" fill="#00ff00"/>
<rect x="1016" y="286" width="1" height="18" fill="#ff0000"/>
<rect x="1015" y="288" width="3" height="6" fill="#ff0000"/>
<rect x="1020" y="272" width="1" height="24" fill="#ff0000"/>
<rect x="1019" y="280" width="3" height="9" fill="#ff0000"/>
<rect x="1024" y="257" width="1" height="23" fill="#ff0000"/>
<rect x="1023" y="258" width="3" height="19" fill="#ff0000"/>
<rect x="1028" y="257" width="1" height="7" fill="#00ff00"/>
<rect x="1027" y="258" width="3" height="5" fill="#00ff00"/>
<rect x="1032" y="242" width="1" height="24" fill="#ff0000"/>
<rect x="1031" y="250" width="3" height="16" fill="#ff0000"/>
<rect x="1036" y="240" width="1" height="14" fill="#ff0000"/>
<rect x="1035" y="242" width="3" height="8" fill="#ff0000"/>
<rect x="1040" y="241" width="1" height="9" fill="#00ff00"/>
<rect x="1039" y="242" width="3" height="6" fill="#00ff00"/>
<rect x="1044" y="233" width="1" height="17" fill="#ff0000"/>
<rect x="1043" y="234" width="3" height="14" fill="#ff0000"/>
<rect x="1048" y="203" width="1" height="32" fill="#ff0000"/>
<rect x="1047" y="204" width="3" height="30" fill="#ff0000"/>
<rect x="1052" y="203" width="1" height="10" fill="#00ff00"/>
<rect x="1051" y="204" width="3" height="8" fill="#00ff00"/>
<rect x="1056" y="193" width="1" height="16" fill="#ff0000"/>
<rect x="1055" y="196" width="3" height="12" fill="#ff0000"/>
<rect x="1060" y="172" width="1" height="27" fill="#ff0000"/>
<rect x="1059" y="174" width="3" height="23" fill="#ff0000"/>
<rect x="1064" y="171" width="1" height="13" fill="#00ff00"/>
<rect x="1063" y="174" width="3" height="9" fill="#00ff00"/>
<rect x="1068" y="180" width="1" height="26" fill="#00ff00"/>
<rect x="1067" y="189" width="3" height="2" fill="#00ff00"/>
<rect x="1072" y="193" width="1" height="48" fill="#00ff00"/>
<rect x="1071" y="194" width="3" height="30" fill="#00ff00"/>
<rect x="1076" y="217" width="1" height="9" fill="#ff0000"/>
<rect x="1075" y="220" width="3" height="4" fill="#ff0000"/>
<rect x="1080" y="222" width="1" height="23" fill="#00ff00"/>
<rect x="1079" y="235" width="3" height="5" fill="#00ff00"/>
<rect x="1084" y="234" width="1" height="54" fill="#00ff00"/>
<rect x="1083" y="235" width="3" height="48" fill="#00ff00"/>
<rect x="1088" y="271" width="1" height="25" fill="#00ff00"/>
<rect x="1087" y="282" width="3" height="11" fill="#00ff00"/>
<rect x="1092" y="274" width="1" height="22" fill="#00ff00"/>
<rect x="1091" y="292" width="3" height="2" fill="#00ff00"/>
<rect x="1096" y="256" width="1" height="40" fill="#ff0000"/>
<rect x="1095" y="257" width="3" height="36" fill="#ff0000"/>
<rect x="1100" y="254" width="1" height="12" fill="#ff0000"/>
<rect x="1099" y="255" width="3" height="3" fill="#ff0000"/>
<rect x="1104" y="247" width="1" height="19" fill="#ff0000"/>
<rect x="1103" y="258" width="3" height="6" fill="#ff0000"/>
<rect x="1108" y="251" width="1" height="21" fill="#00ff00"/>
<rect x="1107" y="258" width="3" height="4" fill="#00ff00"/>
<rect x="1112" y="258" width="1" height="19" fill="#ff0000"/>
<rect x="1111" y="259" width="3" height="4" fill="#ff0000"/>
<rect x="1116" y="238" width="1" height="30" fill="#00ff00"/>
<rect x="1115" y="258" width="3" height="5" fill="#00ff00"/>
<rect x="1120" y="258" width="1" height="22" fill="#00ff00"/>
<rect x="1119" y="263" width="3" height="13" fill="#00ff00"/>
<rect x="1124" y="275" width="1" height="5" fill="#00ff00"/>
<rect x="1123" y="275" width="3" height="3" fill="#00ff00"/>
<rect x="1128" y="269" width="1" height="23" fill="#00ff00"/>
<rect x="1127" y="277" width="3" height="7" fill="#00ff00"/>
<rect x="1132" y="274" width="1" height="26" fill="#00ff00"/>
<rect x="1131" y="284" width="3" height="6" fill="#00ff00"/>
<rect x="1136" y="287" width="1" height="25" fill="#00ff00"/>
<rect x="1135" y="289" width="3" height="15" fill="#00ff00"/>
<rect x="1140" y="275" width="1" height="32" fill="#ff0000"/>
<rect x="1139" y="297" width="3" height="7" fill="#ff0000"/>
<rect x="1144" y="290" width="1" height="26" fill="#00ff00"/>
<rect x="1143" y="296" width="3" height="15" fill="#00ff00"/>
<rect x="1148" y="308" width="1" height="10" fill="#00ff00"/>
<rect x="1147" y="309" width="3" height="4" fill="#00ff00"/>
<rect x="1152" y="317" width="1" height="43" fill="#00ff00"/>
<rect x="1151" y="318" width="3" height="40" fill="#00ff00"/>
<rect x="1156" y="353" width="1" height="20" fill="#00ff00"/>
<rect x="1155" y="357" width="3" height="5" fill="#00ff00"/>
<rect x="1160" y="346" width="1" height="28" fill="#00ff00"/>
<rect x="1159" y="362" width="3" height="9" fill="#00ff00"/>
<rect x="1164" y="353" width="1" height="45" fill="#00ff00"/>
<rect x="1163" y="370" width="3" height="25" fill="#00ff00"/>
<rect x="1168" y="380" width="1" height="30" fill="#00ff00"/>
<rect x="1167" y="394" width="3" height="8" fill="#00ff00"/>
<rect x="1172" y="396" width="1" height="9" fill="#ff0000"/>
<rect x="1171" y="399" width="3" height="3" fill="#ff0000"/>
<rect x="1176" y="388" width="1" height="21" fill="#ff0000"/>
<rect x="1175" y="399" width="3" height="10" fill="#ff0000"/>
<rect x="1180" y="374" width="1" height="38" fill="#ff0000"/>
<rect x="1179" y="379" width="3" height="23" fill="#ff0000"/>
<rect x="1184" y="347" width="1" height="35" fill="#ff0000"/>
<rect x="1183" y="367" width="3" height="13" fill="#ff0000"/>
<rect x="1188" y="353" width="1" height="24" fill="#00ff00"/>
<rect x="1187" y="366" width="3" height="6" fill="#00ff00"/>
<rect x="1192" y="364" width="1" height="60" fill="#00ff00"/>
<rect x="1191" y="371" width="3" height="36" fill="#00ff00"/>
<rect x="1196" y="405" width="1" height="11" fill="#00ff00"/>
<rect x="1195" y="406" width="3" height="9" fill="#00ff00"/>
<rect x="1200" y="392" width="1" height="29" fill="#ff0000"/>
<rect x="1199" y="411" width="3" height="5" fill="#ff0000"/>
<rect x="1204" y="372" width="1" height="44" fill="#ff0000"/>
<rect x="1203" y="382" width="3" height="30" fill="#ff0000"/>
<rect x="1208" y="364" width="1" height="28" fill="#ff0000"/>
<rect x="1207" y="367" width="3" height="19" fill="#ff0000"/>
<rect x="1212" y="363" width="1" height="27" fill="#00ff00"/>
<rect x="1211" y="367" width="3" height="9" fill="#00ff00"/>
<rect x="1216" y="373" width="1" height="18" fill="#00ff00"/>
<rect x="1215" y="375" width="3" height="14" fill="#00ff00"/>
<rect x="1220" y="384" width="1" height="8" fill="#00ff00"/>
<rect x="1219" y="385" width="3" height="5" fill="#00ff00"/>
<rect x="1224" y="374" width="1" height="15" fill="#00ff00"/>
<rect x="1223" y="384" width="3" height="4" fill="#00ff00"/>
<rect x="1228" y="383" width="1" height="32" fill="#00ff00"/>
<rect x="1227" y="387" width="3" height="13" fill="#00ff00"/>
<rect x="1232" y="391" width="1" height="31" fill="#00ff00"/>
<rect x="1231" y="399" width="3" height="16" fill="#00ff00"/>
<rect x="1236" y="401" width="1" height="54" fill="#00ff00"/>
<rect x="1235" y="412" width="3" height="36" fill="#00ff00"/>
<rect x="1240" y="440" width="1" height="36" fill="#ff0000"/>
<rect x="1239" y="444" width="3" height="4" fill="#ff0000"/>
<rect x="1244" y="439" width="1" height="8" fill="#00ff00"/>
<rect x="1243" y="442" width="3" height="3" fill="#00ff00"/>
<rect x="1248" y="452" width="1" height="23" fill="#ff0000"/>
<rect x="1247" y="454" width="3" height="16" fill="#ff0000"/>
<rect x="1252" y="451" width="1" height="24" fill="#00ff00"/>
<rect x="1251" y="452" width="3" height="14" fill="#00ff00"/>
<rect x="1256" y="460" width="1" height="38" fill="#00ff00"/>
<rect x="1255" y="461" width="3" height="36" fill="#00ff00"/>
<rect x="1260" y="471" width="1" height="34" fill="#ff0000"/>
<rect x="1259" y="481" width="3" height="16" fill="#ff0000"/>
<rect x="1264" y="472" width="1" height="106" fill="#00ff00"/>
<rect x="1263" y="481" width="3" height="83" fill="#00ff00"/>
<rect x="1268" y="515" width="1" height="59" fill="#ff0000"/>
<rect x="1267" y="518" width="3" height="44" fill="#ff0000"/>
<rect x="1272" y="487" width="1" height="62" fill="#ff0000"/>
<rect x="1271" y="517" width="3" height="27" fill="#ff0000"/>
<rect x="1276" y="434" width="1" height="93" fill="#ff0000"/>
<rect x="1275" y="450" width="3" height="71" fill="#ff0000"/>
<rect x="1280" y="448" width="1" height="34" fill="#00ff00"/>
<rect x="1279" y="450" width="3" height="19" fill="#00ff00"/>
<path d="M4 90.5h11M15 91.5h2M17 92.5h2M19 93.5h1M20 94.5h2M22 95.5h2M24 96.5h2M26 97.5h2M28 98.5h1M29 99.5h2M31 100.5h1M32 101.5h1M33 102.5h1M34.5 103v2M35 105.5h1M36 106.5h1M37.5 107v2M38 109.5h1M39.5 110v2M187 110.5h11M183 111.5h4M198 111.5h2M40 112.5h1M180 112.5h3M200 112.5h2M41 113.5h1M178 113.5h2M202 113.5h2M42 114.5h1M176 114.5h2M204 114.5h3M43 115.5h1M174 115.5h2M207 115.5h7M44 116.5h1M172 116.5h2M214 116.5h2M45 117.5h1M171 117.5h1M216 117.5h3M46 118.5h1M169 118.5h2M219 118.5h3M47 119.5h1M168 119.5h1M222 119.5h2M48 120.5h1M166 120.5h2M224 120.5h2M49 121.5h2M164 121.5h2M226 121.5h2M51 122.5h1M163 122.5h1M228 122.5h2M52 123.5h2M162 123.5h1M230 123.5h2M54 124.5h2M161 124.5h1M232 124.5h2M56 125.5h3M75 125.5h8M160 125.5h1M234 125.5h2M59 126.5h16M83 126.5h8M158 126.5h2M236 126.5h2M91 127.5h8M156 127.5h2M238 127.5h2M99 128.5h3M154 128.5h2M240 128.5h2M102 129.5h2M152 129.5h2M242 129.5h2M104 130.5h10M151 130.5h1M244 130.5h2M114 131.5h2M149 131.5h2M246 131.5h2M116 132.5h2M147 132.5h2M248 132.5h1M118 133.5h2M144 133.5h3M249 133.5h2M120 134.5h2M142 134.5h2M251 134.5h1M122 135.5h2M139 135.5h3M252 135.5h2M124 136.5h15M254 136.5h2M256 137.5h1M257 138.5h2M259 139.5h1M260 140.5h1M261 141.5h1M262 142.5h1M263 143.5h1M264 144.5h1M265 145.5h1M266 146.5h1M267 147.5h1M268 148.5h1M269 149.5h1M270 150.5h1M271 151.5h1M272 152.5h1M273 153.5h1M274.5 154v2M275 156.5h1M276 157.5h1M277.5 158v2M278.5 160v2M279.5 162v2M280.5 164v2M281.5 166v2M282.5 168v2M283.5 170v2M284 172.5h1M285.5 173v2M286.5 175v2M287.5 177v2M288 179.5h1M289.5 180v2M290 182.5h1M291.5 183v2M292 185.5h1M293.5 186v2M294 188.5h1M295.5 189v2M296 191.5h1M297 192.5h1M298.5 193v2M299 195.5h1M300 196.5h1M301 197.5h1M302.5 198v2M515 198.5h11M511 199.5h4M526 199.5h2M303 200.5h1M508 200.5h3M528 200.5h2M304 201.5h1M507 201.5h1M530 201.5h2M305 202.5h1M506 202.5h1M532 202.5h1M306 203.5h1M505 203.5h1M533 203.5h2M307 204.5h1M504 204.5h1M535 204.5h1M308 205.5h1M503 205.5h1M536 205.5h1M309 206.5h1M501 206.5h2M537 206.5h1M310.5 207v2M500 207.5h1M538 207.5h1M499 208.5h1M539 208.5h1M311 209.5h1M498 209.5h1M540 209.5h1M312 210.5h1M497 210.5h1M541 210.5h1M313 211.5h1M496 211.5h1M542 211.5h1M314 212.5h1M495 212.5h1M543 212.5h1M315 213.5h1M494 213.5h1M544 213.5h1M316 214.5h1M493 214.5h1M545 214.5h1M317 215.5h1M492 215.5h1M546.5 215v2M318.5 216v2M491 216.5h1M489 217.5h2M547 217.5h1M319 218.5h1M488 218.5h1M548 218.5h1M320 219.5h2M486 219.5h2M549 219.5h1M322 220.5h2M484 220.5h2M550 220.5h1M324 221.5h1M482 221.5h2M551 221.5h1M325 222.5h2M480 222.5h2M552 222.5h1M327 223.5h1M451 223.5h12M478 223.5h2M553 223.5h1M328 224.5h2M447 224.5h4M463 224.5h15M554.5 224v2M330 225.5h2M444 225.5h3M332 226.5h2M442 226.5h2M555 226.5h1M334 227.5h2M440 227.5h2M556 227.5h1M336 228.5h2M439 228.5h1M557 228.5h1M338 229.5h2M437 229.5h2M558.5 229v2M340 230.5h3M435 230.5h2M343 231.5h8M431 231.5h4M559 231.5h1M351 232.5h8M428 232.5h3M560 232.5h1M359 233.5h4M426 233.5h2M561 233.5h1M363 234.5h4M424 234.5h2M562.5 234v2M367 235.5h4M422 235.5h2M371 236.5h2M420 236.5h2M563 236.5h1M373 237.5h2M419 237.5h1M564 237.5h1M375 238.5h1M417 238.5h2M565 238.5h1M376 239.5h1M416 239.5h1M566 239.5h1M377 240.5h2M414 240.5h2M567 240.5h1M379 241.5h1M412 241.5h2M568 241.5h1M380 242.5h2M411 242.5h1M569 242.5h1M382 243.5h2M409 243.5h2M570 243.5h1M384 244.5h2M407 244.5h2M571 244.5h1M386 245.5h2M403 245.5h4M572 245.5h1M388 246.5h3M399 246.5h4M573 246.5h1M391 247.5h8M574 247.5h1M575 248.5h1M1111 248.5h24M576 249.5h1M1107 249.5h4M1135 249.5h7M577 250.5h1M1104 250.5h3M1142 250.5h2M578 251.5h1M1102 251.5h2M1144 251.5h2M579 252.5h1M1100 252.5h2M1146 252.5h2M580 253.5h1M1098 253.5h2M1148 253.5h1M581 254.5h1M1095 254.5h3M1149 254.5h2M582.5 255v2M1091 255.5h4M1151 255.5h1M1087 256.5h4M1152 256.5h1M583 257.5h1M1083 257.5h4M1153 257.5h1M584 258.5h1M1080 258.5h3M1154 258.5h1M585 259.5h1M1078 259.5h2M1155 259.5h1M586.5 260v2M1076 260.5h2M1156 260.5h1M1075 261.5h1M1157 261.5h1M587 262.5h1M1074.5 262v2M1158.5 262v2M588 263.5h1M589 264.5h1M1073 264.5h1M1159 264.5h1M590.5 265v2M1072 265.5h1M1160 265.5h1M1071 266.5h1M1161 266.5h1M591 267.5h1M1070 267.5h1M1162.5 267v2M592 268.5h1M1069 268.5h1M593 269.5h1M1068 269.5h1M1163 269.5h1M594.5 270v2M1067 270.5h1M1164 270.5h1M1066.5 271v2M1165.5 271v2M595 272.5h1M596 273.5h1M1065 273.5h1M1166 273.5h1M597 274.5h1M1064 274.5h1M1167.5 274v2M598.5 275v2M1063 275.5h1M1062.5 276v2M1168 276.5h1M599 277.5h1M1169.5 277v2M600 278.5h1M1061 278.5h1M601.5 279v2M1060 279.5h1M1170 279.5h1M1059 280.5h1M1171.5 280v2M602 281.5h1M1058.5 281v2M603.5 282v2M1172 282.5h1M1057 283.5h1M1173.5 283v2M604 284.5h1M1056 284.5h1M605 285.5h1M1055 285.5h1M1174 285.5h1M606.5 286v2M1054.5 286v2M1175.5 286v2M607 288.5h1M1053 288.5h1M1176 288.5h1M608 289.5h1M1052 289.5h1M1177.5 289v2M609.5 290v2M1051 290.5h1M1050 291.5h1M1178 291.5h1M610 292.5h1M1049 292.5h1M1179.5 292v2M611.5 293v2M1048 293.5h1M1047 294.5h1M1180 294.5h1M612 295.5h1M919 295.5h4M1046 295.5h1M1181.5 295v2M613.5 296v2M915 296.5h4M923 296.5h4M1045 296.5h1M912 297.5h3M927 297.5h4M1044 297.5h1M1182.5 297v2M614 298.5h1M910 298.5h2M931 298.5h3M1043 298.5h1M615.5 299v2M896 299.5h14M934 299.5h2M1041 299.5h2M1183.5 299v2M894 300.5h2M936 300.5h2M1040 300.5h1M616 301.5h1M892 301.5h2M938 301.5h2M1039 301.5h1M1184 301.5h1M617.5 302v2M890 302.5h2M940 302.5h2M1037 302.5h2M1185.5 302v2M888 303.5h2M942 303.5h2M1036 303.5h1M618.5 304v2M887 304.5h1M944 304.5h3M1035 304.5h1M1186 304.5h1M885 305.5h2M947 305.5h3M1033 305.5h2M1187.5 305v2M619.5 306v2M884 306.5h1M950 306.5h2M1032 306.5h1M882 307.5h2M952 307.5h3M1030 307.5h2M1188 307.5h1M620 308.5h1M880 308.5h2M955 308.5h4M1028 308.5h2M1189.5 308v2M621.5 309v2M879 309.5h1M959 309.5h4M1027 309.5h1M877 310.5h2M963 310.5h7M1025 310.5h2M1190.5 310v2M622 311.5h1M876 311.5h1M970 311.5h2M1024 311.5h1M623.5 312v2M875 312.5h1M972 312.5h3M1022 312.5h2M1191.5 312v2M873 313.5h2M975 313.5h4M1020 313.5h2M624 314.5h1M872 314.5h1M979 314.5h3M1018 314.5h2M1192 314.5h1M625 315.5h1M871 315.5h1M982 315.5h2M1015 315.5h3M1193.5 315v2M626.5 316v2M870 316.5h1M984 316.5h3M1011 316.5h4M869 317.5h1M987 317.5h4M1003 317.5h8M1194 317.5h1M627 318.5h1M868 318.5h1M991 318.5h4M999 318.5h4M1195.5 318v2M628 319.5h1M867 319.5h1M995 319.5h4M629.5 320v2M866.5 320v2M1196 320.5h1M1197.5 321v2M630 322.5h1M865 322.5h1M631.5 323v2M864 323.5h1M1198 323.5h1M863 324.5h1M1199.5 324v2M632 325.5h1M861 325.5h2M633 326.5h1M860 326.5h1M1200 326.5h1M634.5 327v2M859 327.5h1M1201 327.5h2M857 328.5h2M1203 328.5h1M635 329.5h1M703 329.5h20M739 329.5h4M856 329.5h1M1204 329.5h1M636 330.5h1M700 330.5h3M723 330.5h16M743 330.5h4M763 330.5h12M855 330.5h1M1205 330.5h2M637 331.5h1M698 331.5h2M747 331.5h4M759 331.5h4M775 331.5h3M853 331.5h2M1207 331.5h1M638.5 332v2M696 332.5h2M751 332.5h8M778 332.5h2M852 332.5h1M1208 332.5h1M694 333.5h2M780 333.5h3M851 333.5h1M1209 333.5h2M639 334.5h1M692 334.5h2M783 334.5h3M849 334.5h2M1211 334.5h1M640 335.5h1M690 335.5h2M786 335.5h2M848 335.5h1M1212 335.5h1M641 336.5h1M688 336.5h2M788 336.5h2M847 336.5h1M1213 336.5h1M642 337.5h1M686 337.5h2M790 337.5h2M845 337.5h2M1214.5 337v2M643 338.5h1M684 338.5h2M792 338.5h2M844 338.5h1M644 339.5h1M682 339.5h2M794 339.5h2M842 339.5h2M1215 339.5h1M645 340.5h1M680 340.5h2M796 340.5h2M840 340.5h2M1216 340.5h1M646 341.5h1M678 341.5h2M798 341.5h2M838 341.5h2M1217 341.5h1M647 342.5h1M676 342.5h2M800 342.5h3M835 342.5h3M1218 342.5h1M648 343.5h1M674 343.5h2M803 343.5h8M831 343.5h4M1219 343.5h1M649 344.5h2M672 344.5h2M811 344.5h20M1220 344.5h1M651 345.5h1M670 345.5h2M1221 345.5h1M652 346.5h2M667 346.5h3M1222.5 346v2M654 347.5h2M663 347.5h4M656 348.5h7M1223 348.5h1M1224 349.5h1M1225 350.5h1M1226.5 351v2M1227 353.5h1M1228 354.5h1M1229 355.5h1M1230.5 356v2M1231 358.5h1M1232 359.5h1M1233 360.5h1M1234.5 361v2M1235 363.5h1M1236 364.5h1M1237 365.5h1M1238.5 366v2M1239 368.5h1M1240 369.5h1M1241.5 370v2M1242 372.5h1M1243.5 373v2M1244 375.5h1M1245.5 376v2M1246 378.5h1M1247.5 379v2M1248 381.5h1M1249.5 382v2M1250 384.5h1M1251.5 385v2M1252 387.5h1M1253.5 388v2M1254 390.5h1M1255.5 391v2M1256 393.5h1M1257.5 394v2M1258 396.5h1M1259.5 397v2M1260.5 399v2M1261.5 401v2M1262.5 403v2M1263.5 405v2M1264.5 407v2M1265.5 409v2M1266.5 411v2M1267.5 413v2M1268 415.5h1M1269 416.5h1M1270 417.5h1M1271 418.5h1M1272 419.5h1M1273 420.5h1M1274 421.5h1M1275 422.5h1M1276 423.5h2M1278 424.5h2M1280 425.5h1" fill="none" stroke="#0000d2" stroke-width="1"/>
<path d="M191 92.5h6M187 93.5h4M197 93.5h1M184 94.5h3M198 94.5h1M183 95.5h1M199 95.5h1M181 96.5h2M200 96.5h1M180 97.5h1M201 97.5h1M179 98.5h1M202.5 98v2M177 99.5h2M176 100.5h1M203 100.5h1M175 101.5h1M204 101.5h1M12 102.5h6M173 102.5h2M205 102.5h1M10 103.5h2M18 103.5h2M172 103.5h1M206.5 103v2M8 104.5h2M20 104.5h2M171 104.5h1M7 105.5h1M22 105.5h2M170 105.5h1M207 105.5h1M5 106.5h2M24 106.5h1M169 106.5h1M208 106.5h1M4 107.5h1M25 107.5h1M168 107.5h1M209 107.5h1M26 108.5h1M167 108.5h1M210.5 108v2M27 109.5h1M165 109.5h2M28 110.5h1M164 110.5h1M211 110.5h1M29 111.5h1M163 111.5h1M212 111.5h1M30.5 112v2M162 112.5h1M213.5 112v2M161 113.5h1M31 114.5h1M160 114.5h1M214.5 114v2M32 115.5h1M159 115.5h1M33 116.5h1M158 116.5h1M215.5 116v2M34.5 117v2M157 117.5h1M156 118.5h1M216 118.5h1M35 119.5h1M154 119.5h2M217.5 119v2M36 120.5h1M151 120.5h3M37 121.5h1M147 121.5h4M218.5 121v2M38.5 122v2M144 122.5h3M142 123.5h2M219.5 123v2M39 124.5h1M139 124.5h3M40 125.5h1M131 125.5h8M220.5 125v2M41 126.5h1M127 126.5h4M42 127.5h1M123 127.5h4M221.5 127v2M43 128.5h1M111 128.5h12M44 129.5h1M107 129.5h4M222.5 129v2M45 130.5h2M104 130.5h3M47 131.5h1M102 131.5h2M223.5 131v2M48 132.5h2M100 132.5h2M50 133.5h2M99 133.5h1M224.5 133v2M52 134.5h1M97 134.5h2M53 135.5h2M96 135.5h1M225.5 135v2M55 136.5h1M95 136.5h1M56 137.5h1M93 137.5h2M226.5 137v2M57 138.5h1M92 138.5h1M58 139.5h1M91 139.5h1M227.5 139v2M59 140.5h1M89 140.5h2M60 141.5h1M88 141.5h1M228 141.5h1M61.5 142v2M86 142.5h2M229.5 142v2M84 143.5h2M62 144.5h1M82 144.5h2M230.5 144v2M63.5 145v2M79 145.5h3M75 146.5h4M231.5 146v2M64 147.5h3M71 147.5h4M67 148.5h4M232 148.5h1M233.5 149v2M234 151.5h1M235.5 152v2M236 154.5h1M237.5 155v2M238 157.5h1M239.5 158v2M240 160.5h1M241.5 161v2M242.5 163v2M243.5 165v2M244 167.5h1M245.5 168v2M246.5 170v2M247.5 172v2M248 174.5h1M249 175.5h1M250.5 176v2M251 178.5h1M252 179.5h2M254 180.5h2M256 181.5h3M259 182.5h2M261 183.5h1M262 184.5h1M263 185.5h1M264 186.5h1M511 186.5h7M265 187.5h1M508 187.5h3M518 187.5h2M266.5 188v2M506 188.5h2M520 188.5h1M504 189.5h2M521 189.5h1M267 190.5h1M503 190.5h1M522 190.5h1M268 191.5h1M501 191.5h2M523 191.5h1M269.5 192v2M499 192.5h2M524 192.5h1M495 193.5h4M525.5 193v2M270 194.5h1M492 194.5h3M271.5 195v2M491 195.5h1M526 195.5h1M489 196.5h2M527.5 196v2M272 197.5h1M488 197.5h1M273.5 198v2M486 198.5h2M528 198.5h1M475 199.5h11M529.5 199v2M274.5 200v2M471 200.5h4M467 201.5h4M530 201.5h1M275.5 202v2M459 202.5h8M531.5 202v2M455 203.5h4M276 204.5h1M452 204.5h3M532.5 204v2M277.5 205v2M451 205.5h1M449 206.5h2M533.5 206v2M278.5 207v2M448 207.5h1M447 208.5h1M534.5 208v2M279.5 209v2M446 209.5h1M445 210.5h1M535.5 210v2M280 211.5h1M444 211.5h1M281.5 212v2M443.5 212v2M536.5 212v2M282.5 214v2M442.5 214v2M537.5 214v2M283.5 216v2M441.5 216v2M538.5 216v2M284 218.5h1M440.5 218v2M539.5 218v2M285.5 219v2M439.5 220v2M540.5 220v3M1076 220.5h6M286 221.5h1M1075 221.5h1M1082 221.5h2M287.5 222v2M438.5 222v2M1073 222.5h2M1084 222.5h2M363 223.5h7M541.5 223v2M1072 223.5h1M1086 223.5h2M288 224.5h1M360 224.5h3M370 224.5h2M437.5 224v2M1071 224.5h1M1088 224.5h1M289.5 225v2M359 225.5h1M372 225.5h2M542.5 225v3M1069 225.5h2M1089 225.5h2M357 226.5h2M374 226.5h2M436.5 226v2M1068 226.5h1M1091 226.5h1M290 227.5h1M356 227.5h1M376 227.5h1M1067.5 227v2M1092 227.5h2M291.5 228v2M355 228.5h1M377 228.5h2M435.5 228v2M543.5 228v2M1094 228.5h2M354 229.5h1M379 229.5h1M1066 229.5h1M1096 229.5h3M292 230.5h1M353 230.5h1M380 230.5h1M434 230.5h1M544.5 230v3M1065.5 230v2M1099 230.5h2M293 231.5h1M352 231.5h1M381 231.5h2M433.5 231v2M1101 231.5h2M294.5 232v2M351 232.5h1M383 232.5h1M1064 232.5h1M1103 232.5h1M350.5 233v2M384 233.5h1M432 233.5h1M545.5 233v3M1063.5 233v2M1104 233.5h1M295 234.5h1M385 234.5h2M431.5 234v2M1105 234.5h2M296 235.5h1M349 235.5h1M387 235.5h1M1062.5 235v2M1107 235.5h1M297 236.5h1M348 236.5h1M388 236.5h1M430 236.5h1M546.5 236v3M1108 236.5h1M298.5 237v2M347.5 237v2M389 237.5h1M429.5 237v2M1061.5 237v2M1109 237.5h1M390 238.5h1M1110 238.5h1M299 239.5h1M346 239.5h1M391 239.5h1M428 239.5h1M547.5 239v3M1060 239.5h1M1111 239.5h1M300 240.5h1M345.5 240v2M392 240.5h2M427 240.5h1M1059.5 240v2M1112 240.5h1M301 241.5h1M394 241.5h2M426 241.5h1M1113.5 241v2M302.5 242v2M344 242.5h1M396 242.5h1M425 242.5h1M548.5 242v3M1058.5 242v2M343 243.5h1M397 243.5h2M424 243.5h1M1114.5 243v2M303 244.5h1M342.5 244v2M399 244.5h1M423 244.5h1M1057.5 244v2M304 245.5h1M400 245.5h2M422 245.5h1M549.5 245v3M1115.5 245v2M305 246.5h1M341 246.5h1M402 246.5h2M421 246.5h1M1056 246.5h1M306 247.5h1M340 247.5h1M404 247.5h2M420 247.5h1M1055.5 247v2M1116 247.5h1M307 248.5h1M339 248.5h1M406 248.5h2M418 248.5h2M550.5 248v3M1117.5 248v2M308 249.5h1M338.5 249v2M408 249.5h2M416 249.5h2M1054.5 249v2M309 250.5h2M410 250.5h2M414 250.5h2M1118.5 250v2M311 251.5h1M337 251.5h1M412 251.5h2M551.5 251v3M1053.5 251v2M312 252.5h2M336 252.5h1M1119.5 252v2M314 253.5h2M335 253.5h1M1052 253.5h1M316 254.5h2M333 254.5h2M552.5 254v3M1051.5 254v2M1120 254.5h1M318 255.5h2M332 255.5h1M1121.5 255v2M320 256.5h3M331 256.5h1M1050 256.5h1M323 257.5h4M329 257.5h2M553.5 257v3M1049.5 257v2M1122 257.5h1M327 258.5h2M1123.5 258v2M1048 259.5h1M554.5 260v3M1047.5 260v2M1124 260.5h1M1125.5 261v2M1046 262.5h1M555.5 263v3M1045.5 263v2M1126 263.5h1M1127.5 264v2M1044 265.5h1M556.5 266v3M1043.5 266v2M1128 266.5h1M1129 267.5h1M1042 268.5h1M1130.5 268v2M557.5 269v4M1041.5 269v2M1131 270.5h1M1040 271.5h1M1132 271.5h1M1039 272.5h1M1133 272.5h2M558.5 273v3M1038 273.5h1M1135 273.5h1M1037 274.5h1M1136 274.5h3M1036 275.5h1M1139 275.5h3M559.5 276v4M1035 276.5h1M1142 276.5h2M1034 277.5h1M1144 277.5h2M891 278.5h6M1033 278.5h1M1146 278.5h2M887 279.5h4M897 279.5h1M1032 279.5h1M1148 279.5h1M560.5 280v3M883 280.5h4M898 280.5h1M1031 280.5h1M1149.5 280v2M879 281.5h4M899 281.5h1M1030 281.5h1M875 282.5h4M900 282.5h1M1029 282.5h1M1150.5 282v2M561.5 283v3M871 283.5h4M901 283.5h2M1028 283.5h1M867 284.5h4M903 284.5h1M1027 284.5h1M1151.5 284v2M864 285.5h3M904 285.5h1M1025 285.5h2M562.5 286v2M863 286.5h1M905 286.5h1M1024 286.5h1M1152.5 286v2M862 287.5h1M906 287.5h1M1023 287.5h1M563.5 288v3M861 288.5h1M907 288.5h1M1021 288.5h2M1153.5 288v2M860 289.5h1M908 289.5h1M1020 289.5h1M859 290.5h1M909 290.5h1M1018 290.5h2M1154.5 290v2M564.5 291v3M858 291.5h1M910.5 291v2M1016 291.5h2M857 292.5h1M1015 292.5h1M1155.5 292v2M856 293.5h1M911 293.5h1M1014 293.5h1M565.5 294v2M708 294.5h3M855.5 294v2M912 294.5h1M1013 294.5h1M1156 294.5h1M706 295.5h2M711 295.5h4M913 295.5h1M1012 295.5h1M1157.5 295v2M566.5 296v2M704 296.5h2M715 296.5h2M854.5 296v2M914 296.5h1M1011 296.5h1M703 297.5h1M717 297.5h1M915 297.5h1M1010.5 297v2M1158.5 297v2M567.5 298v2M702.5 298v2M718 298.5h1M853.5 298v2M916 298.5h1M719 299.5h1M917 299.5h1M1009 299.5h1M1159.5 299v2M568 300.5h1M701 300.5h1M720 300.5h1M852 300.5h1M918 300.5h1M1008 300.5h1M569.5 301v2M700 301.5h1M721 301.5h1M851.5 301v2M919 301.5h1M1007.5 301v2M1160.5 301v2M699.5 302v2M722.5 302v2M920 302.5h1M570.5 303v2M850.5 303v2M921.5 303v2M1006 303.5h1M1161.5 303v2M698 304.5h1M723 304.5h1M1005.5 304v2M571.5 305v2M697.5 305v2M724 305.5h1M849.5 305v2M922 305.5h1M1162.5 305v2M725.5 306v2M923.5 306v2M1004 306.5h1M572.5 307v2M696 307.5h1M848 307.5h1M1003 307.5h1M1163.5 307v2M695.5 308v2M726 308.5h1M847 308.5h1M924 308.5h1M1002.5 308v2M573.5 309v2M727.5 309v2M846 309.5h1M925.5 309v2M1164.5 309v3M694.5 310v2M845 310.5h1M1001 310.5h1M574.5 311v2M728 311.5h1M844 311.5h1M926 311.5h1M1000 311.5h1M693.5 312v2M729.5 312v2M843 312.5h1M927.5 312v2M999.5 312v2M1165.5 312v3M575.5 313v2M841 313.5h2M692 314.5h1M730 314.5h1M840 314.5h1M928 314.5h1M998 314.5h1M576 315.5h1M691.5 315v2M731.5 315v2M839 315.5h1M929 315.5h1M997.5 315v2M1166.5 315v2M577.5 316v2M837 316.5h2M930 316.5h1M690.5 317v2M732 317.5h1M836 317.5h1M931 317.5h1M996 317.5h1M1167.5 317v3M578.5 318v2M733 318.5h1M835 318.5h1M932 318.5h1M995 318.5h1M689.5 319v2M734.5 319v2M834 319.5h1M933 319.5h1M994.5 319v2M579.5 320v2M833 320.5h1M934 320.5h1M1168.5 320v3M688 321.5h1M735 321.5h1M832 321.5h1M935 321.5h1M993 321.5h1M580 322.5h1M687.5 322v2M736 322.5h1M831 322.5h1M936 322.5h1M992 322.5h1M581.5 323v2M737 323.5h1M830 323.5h1M937 323.5h1M991 323.5h1M1169.5 323v2M686 324.5h1M738.5 324v2M829 324.5h1M938 324.5h1M989 324.5h2M582.5 325v2M685.5 325v2M828 325.5h1M939 325.5h1M988 325.5h1M1170.5 325v3M739 326.5h1M827 326.5h1M940 326.5h1M987 326.5h1M583.5 327v2M684 327.5h1M740 327.5h1M826 327.5h1M941 327.5h2M985 327.5h2M683.5 328v2M741.5 328v2M825 328.5h1M943 328.5h1M984 328.5h1M1171.5 328v2M584 329.5h1M824 329.5h1M944 329.5h1M983 329.5h1M585 330.5h1M682 330.5h1M742 330.5h1M823 330.5h1M945 330.5h2M981 330.5h2M1172.5 330v3M586 331.5h1M681.5 331v2M743.5 331v2M822.5 331v2M947 331.5h1M979 331.5h2M587 332.5h1M948 332.5h2M976 332.5h3M588 333.5h1M680 333.5h1M744.5 333v2M821 333.5h1M950 333.5h2M974 333.5h2M1173.5 333v2M589 334.5h1M679.5 334v2M820 334.5h1M952 334.5h3M971 334.5h3M590 335.5h1M745.5 335v2M819 335.5h1M955 335.5h4M963 335.5h8M1174.5 335v2M591 336.5h1M678 336.5h1M818.5 336v2M959 336.5h4M592 337.5h1M677.5 337v2M746.5 337v2M1175.5 337v2M593 338.5h1M817 338.5h1M594 339.5h1M676 339.5h1M747.5 339v2M816 339.5h1M1176.5 339v2M595 340.5h1M675 340.5h1M815 340.5h1M596 341.5h3M674.5 341v2M748.5 341v2M814 341.5h1M1177.5 341v2M599 342.5h3M813 342.5h1M602 343.5h2M673 343.5h1M749.5 343v2M812 343.5h1M1178.5 343v2M604 344.5h3M672 344.5h1M811 344.5h1M607 345.5h8M671 345.5h1M750.5 345v2M810 345.5h1M1179.5 345v2M615 346.5h4M670 346.5h1M809 346.5h1M619 347.5h4M669 347.5h1M751.5 347v2M808 347.5h1M1180 347.5h1M623 348.5h7M668 348.5h1M807 348.5h1M1181.5 348v2M630 349.5h2M667 349.5h1M752 349.5h1M806 349.5h1M632 350.5h1M666.5 350v2M753.5 350v2M805 350.5h1M1182 350.5h1M633 351.5h2M804 351.5h1M1183.5 351v2M635 352.5h1M665 352.5h1M754 352.5h1M803.5 352v2M636 353.5h5M664 353.5h1M755.5 353v2M1184 353.5h1M641 354.5h2M663 354.5h1M802.5 354v2M1185.5 354v2M643 355.5h1M661 355.5h2M756 355.5h1M644 356.5h2M660 356.5h1M757 356.5h1M801.5 356v2M1186.5 356v2M646 357.5h2M659 357.5h1M758 357.5h1M648 358.5h2M657 358.5h2M759 358.5h1M800 358.5h1M1187.5 358v2M650 359.5h2M655 359.5h2M760 359.5h2M799 359.5h1M652 360.5h3M762 360.5h2M798 360.5h1M1188.5 360v2M764 361.5h3M797 361.5h1M767 362.5h4M788 362.5h9M1189.5 362v2M771 363.5h3M786 363.5h2M774 364.5h2M783 364.5h3M1190.5 364v2M776 365.5h7M1191.5 366v2M1192.5 368v2M1193.5 370v2M1194.5 372v2M1195.5 374v2M1196 376.5h1M1197 377.5h1M1198.5 378v2M1199 380.5h1M1200 381.5h1M1201 382.5h1M1202 383.5h1M1203 384.5h1M1204 385.5h2M1206 386.5h2M1208 387.5h2M1210 388.5h2M1223 388.5h4M1212 389.5h11M1227 389.5h4M1231 390.5h2M1233 391.5h1M1234 392.5h1M1235 393.5h1M1236 394.5h1M1237 395.5h1M1238.5 396v2M1239 398.5h1M1240 399.5h1M1241 400.5h1M1242 401.5h1M1243 402.5h1M1244 403.5h1M1245 404.5h1M1246 405.5h1M1247 406.5h1M1248 407.5h1M1249 408.5h1M1250.5 409v2M1251 411.5h1M1252 412.5h1M1253.5 413v2M1254 415.5h1M1255.5 416v2M1256.5 418v2M1257.5 420v2M1258.5 422v2M1259.5 424v2M1260.5 426v2M1261.5 428v3M1262.5 431v2M1263.5 433v3M1264.5 436v3M1265.5 439v3M1266.5 442v2M1267.5 444v3M1268.5 447v3M1269.5 450v2M1270.5 452v2M1271.5 454v2M1272.5 456v2M1273 458.5h1M1274.5 459v2M1275 461.5h1M1276 462.5h1M1277.5 463v2M1278 465.5h1M1279.5 466v2M1280 468.5h1" fill="none" stroke="#ff0000" stroke-width="1"/>
<path d="M176 75.5h1M175 76.5h1M177 76.5h2M173 77.5h2M179 77.5h1M172 78.5h1M180 78.5h1M171 79.5h1M181 79.5h1M170 80.5h1M182 80.5h1M169 81.5h1M183 81.5h1M168 82.5h1M184 82.5h1M167.5 83v2M185 83.5h1M186.5 84v2M166 85.5h1M165.5 86v2M187 86.5h1M188 87.5h1M164 88.5h1M189 88.5h1M163.5 89v2M190.5 89v2M8 91.5h2M162.5 91v2M191 91.5h1M7 92.5h1M10 92.5h2M192.5 92v2M6.5 93v2M12 93.5h1M161.5 93v2M13 94.5h1M193.5 94v2M5 95.5h1M14.5 95v2M160.5 95v2M4 96.5h1M194.5 96v2M15 97.5h1M159.5 97v2M16.5 98v2M195.5 98v2M158.5 99v2M17.5 100v3M196.5 100v3M157.5 101v2M18.5 103v4M156.5 103v2M197.5 103v4M155.5 105v2M19.5 107v3M154.5 107v2M198.5 107v4M153.5 109v2M20.5 110v3M152 111.5h1M199.5 111v4M151 112.5h1M21.5 113v3M150.5 113v2M149 115.5h1M200.5 115v4M22.5 116v2M148 116.5h1M147 117.5h1M23.5 118v3M146.5 118v2M201.5 119v4M145 120.5h1M24.5 121v3M144 121.5h1M100 122.5h3M143 122.5h1M99 123.5h1M103 123.5h2M142 123.5h1M202.5 123v5M25.5 124v3M97 124.5h2M105 124.5h2M112 124.5h3M135 124.5h4M141 124.5h1M96 125.5h1M107 125.5h1M110 125.5h2M115 125.5h2M132 125.5h3M139 125.5h2M87 126.5h4M94 126.5h2M108 126.5h2M117 126.5h2M130 126.5h2M26.5 127v2M84 127.5h3M91 127.5h3M119 127.5h1M128 127.5h2M82 128.5h2M120 128.5h1M127 128.5h1M203.5 128v4M27.5 129v3M80 129.5h2M121 129.5h2M126 129.5h1M79 130.5h1M123 130.5h1M125 130.5h1M78 131.5h1M124 131.5h1M28.5 132v3M77 132.5h1M204.5 132v5M76 133.5h1M75 134.5h1M29.5 135v3M73 135.5h2M72 136.5h1M70 137.5h2M205.5 137v4M30.5 138v4M68 138.5h2M67 139.5h1M65 140.5h2M64 141.5h1M206.5 141v4M31.5 142v3M63 142.5h1M62 143.5h1M61 144.5h1M32.5 145v3M60 145.5h1M207.5 145v4M59 146.5h1M58.5 147v2M33.5 148v2M57 149.5h1M208.5 149v3M34.5 150v2M56 150.5h1M55.5 151v2M35.5 152v2M209.5 152v3M54.5 153v2M36 154.5h1M37.5 155v2M53.5 155v2M210.5 155v2M38 157.5h1M52 157.5h1M211.5 157v3M39.5 158v2M51.5 158v2M40 160.5h1M50.5 160v2M212.5 160v2M41 161.5h2M43 162.5h1M49.5 162v2M213.5 162v2M44 163.5h3M47 164.5h2M214 164.5h1M215.5 165v2M223 165.5h2M219 166.5h4M225 166.5h1M216 167.5h3M226 167.5h1M503 167.5h2M227 168.5h1M500 168.5h3M505 168.5h1M228 169.5h1M498 169.5h2M506 169.5h1M229 170.5h1M496 170.5h2M507 170.5h1M230.5 171v2M495 171.5h1M508.5 171v2M493 172.5h2M231 173.5h1M492 173.5h1M509.5 173v2M232 174.5h1M491 174.5h1M233 175.5h1M490 175.5h1M510.5 175v2M234.5 176v2M489 176.5h1M488 177.5h1M511.5 177v2M235 178.5h1M487 178.5h1M236 179.5h1M486 179.5h1M512.5 179v2M237 180.5h1M485 180.5h1M238 181.5h1M484 181.5h1M513.5 181v4M239 182.5h1M483 182.5h1M240 183.5h1M482 183.5h1M241 184.5h1M481 184.5h1M242.5 185v2M480.5 185v2M514.5 185v3M243 187.5h1M479.5 187v4M244 188.5h2M515.5 188v4M246 189.5h2M248 190.5h1M249 191.5h2M443 191.5h2M478.5 191v4M1068 191.5h2M251 192.5h1M440 192.5h3M445.5 192v2M516.5 192v4M1067.5 192v2M1070 192.5h2M252 193.5h2M439 193.5h1M1072 193.5h1M254 194.5h2M428 194.5h2M438 194.5h1M446 194.5h1M452 194.5h1M1066.5 194v2M1073.5 194v2M256 195.5h3M427.5 195v2M430 195.5h2M437 195.5h1M447.5 195v2M451 195.5h1M453 195.5h1M477.5 195v4M259 196.5h2M432 196.5h5M449 196.5h2M454 196.5h1M517.5 196v5M1065.5 196v2M1074.5 196v2M261 197.5h1M426.5 197v2M448 197.5h1M455 197.5h1M262 198.5h1M456.5 198v2M1064.5 198v2M1075.5 198v2M263 199.5h1M425.5 199v2M476.5 199v4M264 200.5h1M356 200.5h2M457.5 200v3M1063.5 200v2M1076.5 200v2M265.5 201v2M355 201.5h1M358 201.5h2M424.5 201v2M518.5 201v4M354 202.5h1M360 202.5h1M1062.5 202v3M1077.5 202v3M266 203.5h1M353 203.5h1M361 203.5h1M423.5 203v2M458.5 203v3M475.5 203v2M267.5 204v2M352.5 204v2M362 204.5h1M363 205.5h1M422.5 205v3M474.5 205v3M519.5 205v5M1061.5 205v2M1078.5 205v2M268.5 206v2M351.5 206v2M364 206.5h1M459.5 206v3M365.5 207v2M1060.5 207v3M1079.5 207v3M269.5 208v2M350.5 208v2M421.5 208v2M473.5 208v2M366.5 209v2M460.5 209v3M270.5 210v2M349.5 210v2M420.5 210v3M472.5 210v2M520.5 210v4M1059.5 210v2M1080.5 210v4M367.5 211v2M271.5 212v2M348.5 212v3M461.5 212v2M471.5 212v2M1058.5 212v3M368.5 213v2M419.5 213v3M272.5 214v3M462.5 214v3M470 214.5h1M521.5 214v4M1081.5 214v4M347.5 215v2M369.5 215v3M469.5 215v2M1057.5 215v2M418.5 216v2M273.5 217v4M346.5 217v3M463.5 217v2M468 217.5h1M1056.5 217v3M370.5 218v3M417.5 218v3M467 218.5h1M522.5 218v4M1082.5 218v4M464 219.5h3M345.5 220v2M464 220.5h1M1055.5 220v3M274.5 221v4M371.5 221v3M416.5 221v3M344.5 222v2M523.5 222v4M1083.5 222v4M1054.5 223v2M343.5 224v2M372.5 224v3M415.5 224v3M275.5 225v4M1053.5 225v3M342.5 226v2M524.5 226v3M1084.5 226v5M373.5 227v4M414.5 227v3M341.5 228v2M1052.5 228v2M276.5 229v4M525.5 229v4M340.5 230v3M413.5 230v3M1051.5 230v2M374.5 231v4M1085.5 231v5M1050.5 232v2M277.5 233v4M339.5 233v2M412.5 233v3M526.5 233v4M1049.5 234v2M338.5 235v2M375.5 235v4M411.5 236v3M1048.5 236v2M1086.5 236v5M278.5 237v4M337.5 237v2M527.5 237v4M1047.5 238v2M336.5 239v2M376.5 239v3M410.5 239v3M1046.5 240v2M279.5 241v4M335 241.5h1M528.5 241v3M1087.5 241v5M334 242.5h1M377.5 242v4M409.5 242v3M1045.5 242v2M333 243.5h1M332 244.5h1M529.5 244v3M1044 244.5h1M280.5 245v3M331 245.5h1M408.5 245v3M1043.5 245v2M329 246.5h2M378.5 246v4M1088.5 246v4M320 247.5h9M530.5 247v4M1042.5 247v2M281.5 248v3M319 248.5h1M407.5 248v3M318.5 249v2M1041.5 249v2M379.5 250v4M1089.5 250v4M282.5 251v4M317 251.5h1M406.5 251v4M531.5 251v3M1040 251.5h1M316 252.5h1M1039.5 252v2M315 253.5h1M314 254.5h1M380.5 254v3M532.5 254v3M1038.5 254v2M1090.5 254v4M283.5 255v3M313 255.5h1M405.5 255v3M312 256.5h1M1037.5 256v2M311 257.5h1M381.5 257v4M533.5 257v2M284.5 258v2M310.5 258v2M404.5 258v3M1036 258.5h1M1091.5 258v4M534.5 259v2M1035.5 259v2M1119 259.5h2M285.5 260v2M309 260.5h1M1115 260.5h4M1121.5 260v2M308 261.5h1M382.5 261v3M403.5 261v2M535.5 261v2M868 261.5h3M1034.5 261v2M1112 261.5h3M286 262.5h1M307 262.5h1M866 262.5h2M871 262.5h2M1092.5 262v3M1111 262.5h1M1122 262.5h1M287.5 263v2M306 263.5h1M402.5 263v2M536.5 263v2M864 263.5h2M873 263.5h2M1033.5 263v2M1110.5 263v2M1123.5 263v2M305 264.5h1M383.5 264v4M863 264.5h1M875 264.5h1M288 265.5h1M304 265.5h1M401.5 265v2M537.5 265v2M861 265.5h2M876 265.5h1M1032 265.5h1M1093.5 265v2M1109 265.5h1M1124 265.5h1M289 266.5h1M303.5 266v2M860.5 266v2M877.5 266v2M1031.5 266v2M1108 266.5h1M1125.5 266v2M290.5 267v2M400.5 267v2M538 267.5h1M1094.5 267v2M1107.5 267v2M302 268.5h1M384.5 268v3M539.5 268v2M859.5 268v3M878 268.5h1M1030 268.5h1M1126.5 268v2M291 269.5h1M301.5 269v2M399.5 269v2M879.5 269v2M1029.5 269v2M1095.5 269v2M1106 269.5h1M292 270.5h1M540.5 270v3M1105.5 270v2M1127.5 270v2M293 271.5h2M300 271.5h1M385.5 271v2M398.5 271v2M858.5 271v2M880 271.5h1M1028 271.5h1M1096 271.5h1M295 272.5h1M298 272.5h2M881.5 272v2M1027 272.5h1M1097 272.5h1M1104 272.5h1M1128 272.5h1M296 273.5h2M386.5 273v2M397.5 273v2M541.5 273v4M857.5 273v3M1026.5 273v2M1098.5 273v2M1103 273.5h1M1129.5 273v2M882 274.5h1M1102 274.5h1M387.5 275v2M396.5 275v2M883.5 275v2M1025 275.5h1M1099 275.5h1M1101 275.5h1M1130 275.5h1M856.5 276v3M1024 276.5h1M1100 276.5h1M1131.5 276v2M388 277.5h1M395 277.5h1M542.5 277v4M884 277.5h1M1008 277.5h3M1023 277.5h1M389 278.5h2M394 278.5h1M885 278.5h1M1007.5 278v2M1011 278.5h4M1021 278.5h2M1132.5 278v2M391 279.5h1M393 279.5h1M855.5 279v3M886.5 279v2M1015 279.5h6M392 280.5h1M691 280.5h10M1006 280.5h1M1133.5 280v2M543.5 281v4M688 281.5h3M701 281.5h1M887 281.5h1M1005.5 281v2M687 282.5h1M702 282.5h1M854.5 282v2M888 282.5h1M1134.5 282v2M685 283.5h2M703 283.5h1M889.5 283v2M1004 283.5h1M684 284.5h1M704.5 284v2M853.5 284v3M1003.5 284v2M1135.5 284v2M544.5 285v3M683 285.5h1M890.5 285v2M682 286.5h1M705.5 286v3M1002 286.5h1M1136 286.5h1M681 287.5h1M852.5 287v3M891.5 287v2M1001.5 287v2M1137.5 287v2M545.5 288v3M680 288.5h1M679 289.5h1M706.5 289v2M892 289.5h1M1000 289.5h1M1138 289.5h1M678.5 290v2M851.5 290v3M893.5 290v2M999.5 290v2M1139.5 290v2M546.5 291v4M707.5 291v3M677 292.5h1M894.5 292v2M998.5 292v2M1140 292.5h1M676 293.5h1M824 293.5h2M850.5 293v2M1141.5 293v2M675.5 294v2M708.5 294v3M823 294.5h1M826 294.5h2M895.5 294v2M997.5 294v2M547.5 295v3M822 295.5h1M828 295.5h1M849.5 295v3M1142 295.5h1M674.5 296v2M821 296.5h1M829 296.5h1M896.5 296v2M996 296.5h1M1143.5 296v2M709.5 297v4M820 297.5h1M830.5 297v2M995.5 297v2M548.5 298v3M673.5 298v2M819.5 298v2M848.5 298v2M897.5 298v2M1144 298.5h1M831 299.5h1M994.5 299v2M1145.5 299v2M672.5 300v3M818.5 300v2M832 300.5h1M847.5 300v2M898.5 300v2M549.5 301v3M710.5 301v3M833 301.5h1M993.5 301v2M1146 301.5h1M817.5 302v2M834 302.5h1M846 302.5h1M899.5 302v2M1147.5 302v2M671.5 303v3M835 303.5h1M845.5 303v2M992 303.5h1M550.5 304v3M711.5 304v4M816.5 304v2M836 304.5h1M900.5 304v3M991.5 304v2M1148.5 304v2M837 305.5h1M844 305.5h1M983 305.5h2M670.5 306v3M815.5 306v3M838 306.5h1M843 306.5h1M980 306.5h3M985 306.5h1M990 306.5h1M1149.5 306v3M551.5 307v3M839 307.5h1M841 307.5h2M901.5 307v2M979 307.5h1M986 307.5h1M989.5 307v2M712.5 308v3M840 308.5h1M977 308.5h2M987 308.5h1M669.5 309v3M814.5 309v3M902.5 309v2M976 309.5h1M988 309.5h1M1150.5 309v2M552.5 310v4M975.5 310v2M713.5 311v4M903.5 311v2M1151.5 311v3M668.5 312v3M813.5 312v3M974.5 312v2M904 313.5h1M553.5 314v4M905 314.5h1M973.5 314v2M1152.5 314v3M667.5 315v4M714.5 315v4M812.5 315v3M906.5 315v2M972.5 316v2M907 317.5h1M971 317.5h1M1153.5 317v3M554.5 318v4M811.5 318v3M908 318.5h1M968 318.5h3M666.5 319v4M715.5 319v4M909 319.5h2M967 319.5h1M911 320.5h1M920 320.5h1M966 320.5h1M1154.5 320v4M810.5 321v3M912 321.5h3M918 321.5h2M921 321.5h2M965 321.5h1M555.5 322v4M915 322.5h3M923 322.5h1M964.5 322v3M665.5 323v4M716.5 323v3M924 323.5h1M809.5 324v3M925 324.5h2M1155.5 324v3M927 325.5h1M963.5 325v5M556.5 326v3M717.5 326v3M928 326.5h1M664.5 327v5M808.5 327v3M929 327.5h1M1156.5 327v3M930 328.5h1M557.5 329v4M718.5 329v4M931 329.5h1M807.5 330v2M932 330.5h1M962.5 330v5M1157.5 330v4M933 331.5h1M663.5 332v4M806.5 332v3M934.5 332v2M558.5 333v3M719.5 333v3M935 334.5h1M1158.5 334v3M805.5 335v2M936 335.5h1M961.5 335v5M559.5 336v4M580.5 336v2M662.5 336v4M720.5 336v3M937 336.5h1M579.5 337v2M804.5 337v2M938.5 337v2M1159.5 337v4M581.5 338v2M578 339.5h1M721.5 339v2M803 339.5h1M939 339.5h1M560.5 340v2M572 340.5h2M577.5 340v2M582.5 340v2M661.5 340v4M802 340.5h1M940 340.5h2M960.5 340v3M561 341.5h2M570 341.5h2M574 341.5h2M722.5 341v2M801 341.5h1M942 341.5h2M1160.5 341v4M563 342.5h7M576 342.5h1M583.5 342v2M607 342.5h2M800 342.5h1M944 342.5h1M604 343.5h3M609 343.5h2M723.5 343v2M799 343.5h1M945 343.5h2M959.5 343v2M584 344.5h1M603 344.5h1M611 344.5h1M660.5 344v4M797 344.5h2M947 344.5h1M585 345.5h2M596 345.5h1M602.5 345v2M612 345.5h1M724.5 345v2M796 345.5h1M948 345.5h2M958 345.5h1M1161.5 345v4M587 346.5h1M595 346.5h1M597 346.5h2M613 346.5h1M795 346.5h1M950 346.5h2M957.5 346v2M588 347.5h3M593 347.5h2M599 347.5h1M601 347.5h1M614 347.5h1M725 347.5h1M794 347.5h1M952 347.5h3M591 348.5h2M600 348.5h1M615 348.5h1M659.5 348v4M726 348.5h1M793 348.5h1M955 348.5h2M616 349.5h1M727 349.5h1M792 349.5h1M1162.5 349v4M617 350.5h2M728 350.5h2M791 350.5h1M619 351.5h1M623 351.5h2M730 351.5h2M790.5 351v2M620 352.5h3M625 352.5h1M658.5 352v4M732 352.5h5M626.5 353v2M737 353.5h1M789 353.5h1M1163.5 353v4M738 354.5h1M788 354.5h1M627 355.5h1M739 355.5h1M787.5 355v2M628 356.5h2M657.5 356v4M740 356.5h1M630 357.5h2M741 357.5h1M786.5 357v2M1164.5 357v5M632 358.5h2M742.5 358v2M634 359.5h2M785.5 359v2M636 360.5h1M656.5 360v3M743 360.5h1M637 361.5h2M744 361.5h1M784 361.5h1M639 362.5h1M745.5 362v2M783 362.5h1M1165.5 362v4M640.5 363v2M655.5 363v2M781 363.5h2M746.5 364v2M772 364.5h2M780 364.5h1M641.5 365v2M654.5 365v3M771 365.5h1M774 365.5h2M778 365.5h2M747.5 366v2M769 366.5h2M776 366.5h2M1166.5 366v4M642.5 367v2M768 367.5h1M653.5 368v2M748 368.5h1M767 368.5h1M643.5 369v2M749 369.5h1M766 369.5h1M652.5 370v2M750.5 370v2M765 370.5h1M1167.5 370v4M644 371.5h1M764 371.5h1M645 372.5h1M651 372.5h1M751 372.5h1M763 372.5h1M646 373.5h1M650 373.5h1M752 373.5h2M761 373.5h2M647 374.5h1M649 374.5h1M754 374.5h2M759 374.5h2M1168.5 374v4M648 375.5h1M756 375.5h3M1169.5 378v2M1170.5 380v3M1220 381.5h3M1219 382.5h1M1223 382.5h2M1171.5 383v2M1217 383.5h2M1225.5 383v2M1216 384.5h1M1172.5 385v2M1188 385.5h5M1215.5 385v2M1226 385.5h1M1187 386.5h1M1193 386.5h2M1227.5 386v2M1173.5 387v2M1185 387.5h2M1195 387.5h1M1214 387.5h1M1184 388.5h1M1196 388.5h1M1213.5 388v2M1228.5 388v2M1174 389.5h1M1183.5 389v2M1197 389.5h1M1175.5 390v2M1198.5 390v2M1212 390.5h1M1229.5 390v2M1182 391.5h1M1211 391.5h1M1176 392.5h2M1181.5 392v2M1199 392.5h1M1210 392.5h1M1230.5 392v2M1178 393.5h2M1200 393.5h2M1209 393.5h1M1180 394.5h1M1202 394.5h2M1207 394.5h2M1231.5 394v2M1204 395.5h3M1232.5 396v3M1233.5 399v2M1234.5 401v3M1235.5 404v2M1236.5 406v3M1237.5 409v3M1238.5 412v4M1239.5 416v3M1240.5 419v3M1241.5 422v3M1242.5 425v3M1243.5 428v3M1244.5 431v3M1245.5 434v2M1246.5 436v2M1247.5 438v2M1248.5 440v3M1249.5 443v2M1250.5 445v3M1251.5 448v2M1252.5 450v3M1253.5 453v2M1254.5 455v2M1255.5 457v2M1256.5 459v3M1257.5 462v2M1258.5 464v3M1259.5 467v2M1260.5 469v4M1261.5 473v4M1262.5 477v4M1263.5 481v4M1264.5 485v4M1265.5 489v4M1266.5 493v4M1267.5 497v4M1268.5 501v3M1269.5 504v3M1280 504.5h1M1279 505.5h1M1278 506.5h1M1270.5 507v3M1277 507.5h1M1276 508.5h1M1275.5 509v2M1271.5 510v3M1274 511.5h1M1273.5 512v2M1272.5 513v2" fill="none" stroke="#ffa500" stroke-width="1"/>
<rect x="4" y="122" width="1608" height="2" fill="#ff0000"/>
<rect x="1613" y="117" width="39" height="11" fill="#ff0000"/>
<text x="1617.3" y="125.5" font-size="10.2" fill="#fff" stroke="#fff" stroke-width="0.15" textLength="32.6" lengthAdjust="spacingAndGlyphs">0.71016</text>
<rect x="4" y="191" width="1608" height="2" fill="#ff0000"/>
<rect x="1613" y="186" width="39" height="11" fill="#ff0000"/>
<text x="1617.3" y="194.5" font-size="10.2" fill="#fff" stroke="#fff" stroke-width="0.15" textLength="32.6" lengthAdjust="spacingAndGlyphs">0.70007</text>
<rect x="4" y="259" width="1608" height="2" fill="#ff0000"/>
<rect x="1613" y="254" width="39" height="11" fill="#ff0000"/>
<text x="1617.3" y="262.5" font-size="10.2" fill="#fff" stroke="#fff" stroke-width="0.15" textLength="32.6" lengthAdjust="spacingAndGlyphs">0.69010</text>
<rect x="4" y="344" width="1608" height="2" fill="#ff0000"/>
<rect x="3" y="342" width="6" height="6" fill="#ff0000"/>
<rect x="5" y="344" width="2" height="2" fill="#fff"/>
<rect x="1605" y="342" width="6" height="6" fill="#ff0000"/>
<rect x="1607" y="344" width="2" height="2" fill="#fff"/>
<rect x="1613" y="339" width="39" height="11" fill="#ff0000"/>
<text x="1617.3" y="347.5" font-size="10.2" fill="#fff" stroke="#fff" stroke-width="0.15" textLength="32.6" lengthAdjust="spacingAndGlyphs">0.67761</text>
<rect x="4" y="415" width="1608" height="2" fill="#ff0000"/>
<rect x="3" y="413" width="6" height="6" fill="#ff0000"/>
<rect x="5" y="415" width="2" height="2" fill="#fff"/>
<rect x="1605" y="413" width="6" height="6" fill="#ff0000"/>
<rect x="1607" y="415" width="2" height="2" fill="#fff"/>
<rect x="1613" y="410" width="39" height="11" fill="#ff0000"/>
<text x="1617.3" y="418.5" font-size="10.2" fill="#fff" stroke="#fff" stroke-width="0.15" textLength="32.6" lengthAdjust="spacingAndGlyphs">0.66717</text>
<rect x="1613" y="464" width="39" height="11" fill="#000"/>
<text x="1617.3" y="472.5" font-size="10.2" fill="#fff" stroke="#fff" stroke-width="0.15" textLength="32.6" lengthAdjust="spacingAndGlyphs">0.65938</text>
<rect x="4" y="463" width="1608" height="2" fill="#00ff00"/>
<rect x="3" y="461" width="6" height="6" fill="#00ff00"/>
<rect x="5" y="463" width="2" height="2" fill="#fff"/>
<rect x="1605" y="461" width="6" height="6" fill="#00ff00"/>
<rect x="1607" y="463" width="2" height="2" fill="#fff"/>
<rect x="1613" y="458" width="39" height="11" fill="#00ff00"/>
<text x="1617.3" y="466.5" font-size="10.2" fill="#fff" stroke="#fff" stroke-width="0.15" textLength="32.6" lengthAdjust="spacingAndGlyphs">0.66012</text>
<rect x="4" y="531" width="1608" height="2" fill="#0000ff"/>
<rect x="3" y="529" width="6" height="6" fill="#0000ff"/>
<rect x="5" y="531" width="2" height="2" fill="#fff"/>
<rect x="1605" y="529" width="6" height="6" fill="#0000ff"/>
<rect x="1607" y="531" width="2" height="2" fill="#fff"/>
<rect x="1613" y="526" width="39" height="11" fill="#0000ff"/>
<text x="1617.3" y="534.5" font-size="10.2" fill="#fff" stroke="#fff" stroke-width="0.15" textLength="32.6" lengthAdjust="spacingAndGlyphs">0.65012</text>
<rect x="4" y="578" width="1608" height="2" fill="#0000ff"/>
<rect x="1613" y="573" width="39" height="11" fill="#0000ff"/>
<text x="1617.3" y="581.5" font-size="10.2" fill="#fff" stroke="#fff" stroke-width="0.15" textLength="32.6" lengthAdjust="spacingAndGlyphs">0.64321</text>
<path d="M7,32 L14,32 L10.5,36 Z" fill="#000"/>
<text x="19.6" y="37" font-size="10.2" fill="#000" stroke="#000" stroke-width="0.15" textLength="65.4" lengthAdjust="spacingAndGlyphs">AUDUSD,Daily</text>
<text x="91.4" y="37" font-size="10.2" fill="#000" stroke="#000" stroke-width="0.15" textLength="140.6" lengthAdjust="spacingAndGlyphs">0.66216 0.66247 0.65762 0.65938</text>
<line x1="5" y1="626.5" x2="1611" y2="626.5" stroke="#c0c0c0" stroke-width="1" stroke-dasharray="3,3"/>
<rect x="1612" y="626" width="1" height="1" fill="#000"/>
<line x1="5" y1="667.5" x2="1611" y2="667.5" stroke="#c0c0c0" stroke-width="1" stroke-dasharray="3,3"/>
<rect x="1612" y="667" width="1" height="1" fill="#000"/>
<path d="M1060 621.5h1M1058 622.5h2M1061 622.5h2M1056 623.5h2M1063 623.5h1M1055 624.5h1M1064 624.5h1M1048 625.5h2M1054 625.5h1M1065 625.5h1M1047 626.5h1M1050 626.5h2M1053 626.5h1M1066.5 626v2M1046.5 627v2M1052 627.5h1M856 628.5h2M1067 628.5h1M855 629.5h1M858 629.5h2M1045 629.5h1M1068.5 629v2M854 630.5h1M860 630.5h2M1044 630.5h1M424 631.5h5M853 631.5h1M862 631.5h2M996.5 631v2M1043 631.5h1M1069.5 631v3M422 632.5h2M428 632.5h1M687 632.5h3M816 632.5h3M851 632.5h2M864 632.5h3M997.5 632v2M1035 632.5h4M1041 632.5h2M420 633.5h2M429.5 633v3M440 633.5h1M672 633.5h3M684 633.5h3M690 633.5h2M814 633.5h2M819 633.5h2M848 633.5h3M867 633.5h4M995.5 633v2M1032 633.5h3M1039 633.5h2M418 634.5h2M439 634.5h1M441 634.5h2M664 634.5h2M671 634.5h1M675 634.5h2M683 634.5h1M692 634.5h1M811 634.5h3M821 634.5h1M847 634.5h1M871 634.5h3M998 634.5h1M1008.5 634v2M1031 634.5h1M1070.5 634v2M415 635.5h3M438.5 635v2M443 635.5h1M663.5 635v2M666 635.5h2M669 635.5h2M677 635.5h2M682 635.5h1M693 635.5h1M808 635.5h3M822 635.5h1M845 635.5h2M874 635.5h2M994.5 635v2M999.5 635v2M1007 635.5h1M1024 635.5h3M1029 635.5h2M160 636.5h3M167 636.5h6M355 636.5h2M412 636.5h3M430.5 636v4M444.5 636v2M479 636.5h2M492 636.5h11M668 636.5h1M679 636.5h1M681 636.5h1M694 636.5h1M807 636.5h1M823 636.5h1M844 636.5h1M876 636.5h1M968 636.5h1M1006 636.5h1M1009.5 636v2M1023 636.5h1M1027 636.5h2M1071.5 636v3M152 637.5h1M159.5 637v2M163 637.5h4M173 637.5h2M352 637.5h3M356 637.5h1M411 637.5h1M437 637.5h1M476 637.5h3M481 637.5h2M491 637.5h1M503 637.5h2M662 637.5h1M680 637.5h1M695 637.5h1M805 637.5h2M824 637.5h1M843 637.5h1M877.5 637v2M967 637.5h1M969.5 637v2M993.5 637v2M1000 637.5h3M1005 637.5h1M1022 637.5h1M151 638.5h1M153 638.5h1M175 638.5h1M350 638.5h2M357.5 638v2M409 638.5h2M436 638.5h1M445.5 638v2M475 638.5h1M483 638.5h1M489 638.5h2M504 638.5h1M661.5 638v2M696 638.5h2M804.5 638v2M825.5 638v2M842 638.5h1M965 638.5h2M1003 638.5h2M1010.5 638v2M1021 638.5h1M100.5 639v2M150 639.5h1M154.5 639v2M158 639.5h1M176 639.5h1M340 639.5h1M348 639.5h2M408 639.5h1M435.5 639v2M473 639.5h2M484 639.5h5M505.5 639v2M698 639.5h2M841 639.5h1M878.5 639v2M964 639.5h1M970.5 639v2M992.5 639v3M1020 639.5h1M1072.5 639v2M1075 639.5h2M99 640.5h1M149 640.5h1M157.5 640v2M177 640.5h1M339.5 640v2M341 640.5h2M347 640.5h1M358.5 640v3M407.5 640v2M431.5 640v3M446.5 640v3M472 640.5h1M660 640.5h1M700 640.5h1M784 640.5h3M803.5 640v3M826 640.5h1M840 640.5h1M963.5 640v2M1011.5 640v2M1019 640.5h1M1073 640.5h2M1077.5 640v2M98 641.5h1M101.5 641v3M148 641.5h1M155 641.5h1M178 641.5h1M343 641.5h1M345 641.5h2M434 641.5h1M471 641.5h1M506.5 641v2M659 641.5h1M701 641.5h2M783.5 641v2M787 641.5h2M827.5 641v2M832 641.5h2M839 641.5h1M879.5 641v2M971.5 641v2M979 641.5h4M1017 641.5h2M4 642.5h1M97 642.5h1M146 642.5h2M156 642.5h1M179 642.5h1M338 642.5h1M344 642.5h1M406.5 642v2M433.5 642v2M469 642.5h2M658 642.5h1M703 642.5h1M789.5 642v2M830 642.5h2M834 642.5h2M837 642.5h2M962 642.5h1M975 642.5h4M983 642.5h2M991.5 642v2M1012 642.5h5M1078 642.5h1M5 643.5h1M84 643.5h1M96 643.5h1M128 643.5h3M144 643.5h2M180 643.5h9M337.5 643v2M359.5 643v2M432.5 643v2M447.5 643v2M468 643.5h1M507.5 643v2M657 643.5h1M704.5 643v2M782.5 643v2M802.5 643v2M828 643.5h2M836 643.5h1M880 643.5h2M961.5 643v2M972 643.5h3M985.5 643v2M1079.5 643v2M6.5 644v2M83 644.5h1M85 644.5h1M95.5 644v2M102.5 644v3M120.5 644v2M128 644.5h1M131 644.5h3M142 644.5h2M189 644.5h2M405.5 644v2M452 644.5h2M467 644.5h1M656 644.5h1M790 644.5h1M882 644.5h2M990.5 644v2M72 645.5h5M82.5 645v2M86.5 645v2M112 645.5h3M118 645.5h2M127.5 645v2M134 645.5h2M139 645.5h3M191 645.5h1M336 645.5h1M360.5 645v2M448.5 645v2M450 645.5h2M454 645.5h2M466 645.5h1M508.5 645v2M655.5 645v2M705.5 645v2M781.5 645v2M791.5 645v2M801.5 645v3M884 645.5h2M960.5 645v2M986.5 645v2M1080.5 645v2M7 646.5h1M71 646.5h1M77 646.5h2M94 646.5h1M111 646.5h1M115 646.5h3M121.5 646v2M136 646.5h3M192.5 646v2M335 646.5h1M361 646.5h1M403 646.5h2M449 646.5h1M456 646.5h1M465 646.5h1M886 646.5h2M989.5 646v2M8 647.5h1M64 647.5h3M69 647.5h2M79 647.5h1M81 647.5h1M87 647.5h1M93.5 647v2M103.5 647v3M110.5 647v2M126.5 647v2M334 647.5h1M362 647.5h2M400 647.5h3M457.5 647v2M464 647.5h1M509 647.5h1M654.5 647v2M706.5 647v3M780 647.5h1M792 647.5h1M888 647.5h3M959.5 647v4M987.5 647v2M1081.5 647v2M1096 647.5h11M1111 647.5h3M9 648.5h1M63.5 648v2M67 648.5h2M80 648.5h1M88 648.5h3M122.5 648v2M193.5 648v2M333 648.5h1M364 648.5h1M398 648.5h2M463.5 648v2M510.5 648v2M764 648.5h1M779.5 648v2M793 648.5h2M800.5 648v2M891 648.5h2M988.5 648v2M1096 648.5h1M1107 648.5h4M1114 648.5h2M10 649.5h1M55 649.5h2M91 649.5h2M109 649.5h1M125.5 649v2M332 649.5h1M365 649.5h2M396 649.5h2M458.5 649v2M653.5 649v2M762 649.5h2M765 649.5h1M795 649.5h1M799 649.5h1M893 649.5h2M916 649.5h1M1082.5 649v2M1095.5 649v2M1116 649.5h1M11 650.5h1M52 650.5h3M57 650.5h1M62 650.5h1M104.5 650v2M107 650.5h2M123.5 650v2M194.5 650v2M330 650.5h2M367 650.5h1M396 650.5h1M462 650.5h1M511 650.5h1M707.5 650v2M760 650.5h2M766.5 650v2M778.5 650v2M796 650.5h3M895 650.5h1M915 650.5h1M917 650.5h1M1117 650.5h2M1276 650.5h2M12 651.5h2M51 651.5h1M58 651.5h1M61.5 651v2M105 651.5h2M124.5 651v2M328 651.5h2M368 651.5h1M395.5 651v3M459.5 651v2M461.5 651v2M512 651.5h1M652.5 651v3M724.5 651v2M758 651.5h2M896.5 651v2M913 651.5h2M918 651.5h1M958.5 651v4M1083.5 651v2M1094.5 651v2M1119 651.5h1M1276 651.5h1M1278 651.5h2M14 652.5h2M50.5 652v2M59 652.5h1M195.5 652v2M316 652.5h1M327 652.5h1M369.5 652v2M513 652.5h1M708.5 652v2M723 652.5h1M756 652.5h2M767 652.5h1M777.5 652v2M907 652.5h6M919 652.5h1M1120 652.5h3M1208 652.5h2M1275.5 652v4M1280 652.5h1M16 653.5h1M60 653.5h1M308 653.5h1M315 653.5h1M317 653.5h2M326.5 653v2M460 653.5h1M514 653.5h1M624 653.5h1M722.5 653v2M725.5 653v2M756 653.5h1M768 653.5h1M897.5 653v3M904 653.5h3M920 653.5h1M1084.5 653v2M1093.5 653v2M1123 653.5h3M1207 653.5h1M1210 653.5h2M17 654.5h2M24 654.5h2M49 654.5h1M196.5 654v2M307 654.5h1M309 654.5h2M314 654.5h1M319 654.5h1M370 654.5h1M394.5 654v2M515 654.5h1M608 654.5h1M623.5 654v2M625 654.5h2M651.5 654v2M709 654.5h1M755.5 654v3M769 654.5h2M776 654.5h1M904 654.5h1M921 654.5h2M1126 654.5h2M1206.5 654v2M1212 654.5h1M19 655.5h1M22 655.5h2M26 655.5h2M48 655.5h1M216 655.5h2M306 655.5h1M311 655.5h1M313 655.5h1M320 655.5h3M325 655.5h1M371.5 655v2M516 655.5h1M607 655.5h1M609 655.5h1M627 655.5h1M710 655.5h1M721 655.5h1M726.5 655v2M736 655.5h5M771 655.5h1M774 655.5h2M903.5 655v2M923 655.5h1M957.5 655v4M1085 655.5h2M1092.5 655v2M1128 655.5h3M1213 655.5h2M20 656.5h2M28 656.5h1M46 656.5h2M197.5 656v2M215 656.5h1M218 656.5h2M305 656.5h1M312 656.5h1M323 656.5h2M393.5 656v3M517.5 656v2M595 656.5h3M605 656.5h2M610 656.5h1M622 656.5h1M628 656.5h2M650.5 656v2M711 656.5h1M720 656.5h1M734 656.5h2M741 656.5h2M772 656.5h2M898.5 656v2M924 656.5h2M940 656.5h3M1087 656.5h1M1091 656.5h1M1131 656.5h2M1205 656.5h1M1215 656.5h1M1274.5 656v3M29 657.5h1M43 657.5h3M213 657.5h2M220 657.5h3M304 657.5h1M372 657.5h1M588 657.5h7M598 657.5h2M603 657.5h2M611 657.5h1M621.5 657v2M630 657.5h2M712 657.5h3M718 657.5h2M727.5 657v2M732 657.5h2M743 657.5h1M754.5 657v3M902.5 657v2M926 657.5h2M939 657.5h1M943 657.5h2M1088 657.5h3M1133 657.5h1M1204.5 657v2M1216 657.5h9M30 658.5h1M40 658.5h3M198.5 658v2M208 658.5h5M223 658.5h2M256 658.5h5M303 658.5h1M373 658.5h1M518 658.5h1M580 658.5h1M587.5 658v2M600 658.5h3M612 658.5h2M632 658.5h2M649.5 658v2M715 658.5h3M730 658.5h2M744 658.5h1M899.5 658v3M928 658.5h6M938 658.5h1M945 658.5h2M1134 658.5h1M1140 658.5h1M1225 658.5h2M31 659.5h1M38 659.5h2M207.5 659v2M225 659.5h1M232 659.5h5M255.5 659v2M261.5 659v2M302 659.5h1M374.5 659v2M392.5 659v2M519.5 659v2M579.5 659v2M581.5 659v2M614 659.5h2M619 659.5h2M634 659.5h2M728 659.5h2M745.5 659v2M901.5 659v2M934 659.5h2M937 659.5h1M947 659.5h1M956.5 659v3M1135 659.5h1M1138 659.5h2M1141 659.5h2M1203.5 659v3M1227 659.5h1M1273.5 659v4M32 660.5h6M199.5 660v2M226.5 660v2M231 660.5h1M237 660.5h2M244 660.5h5M301 660.5h1M391 660.5h1M586.5 660v2M616 660.5h3M636 660.5h7M648.5 660v2M753.5 660v3M936 660.5h1M948 660.5h3M1136 660.5h2M1143 660.5h1M1184 660.5h3M1228 660.5h1M206 661.5h1M230 661.5h1M239 661.5h1M242 661.5h2M249 661.5h1M254 661.5h1M262 661.5h1M300 661.5h1M375 661.5h1M388 661.5h3M520 661.5h9M578.5 661v2M582 661.5h1M643 661.5h5M746 661.5h1M900.5 661v2M951 661.5h5M1144 661.5h2M1183 661.5h1M1187 661.5h2M1229 661.5h2M200.5 662v2M205.5 662v2M227 662.5h1M229 662.5h1M240 662.5h2M250 662.5h1M253.5 662v2M263.5 662v2M288.5 662v2M299 662.5h1M376 662.5h3M387 662.5h1M529 662.5h1M536 662.5h1M564 662.5h3M583.5 662v2M585.5 662v2M747.5 662v2M1146 662.5h2M1182.5 662v2M1189.5 662v2M1202.5 662v3M1231 662.5h1M201 663.5h2M228 663.5h1M251 663.5h1M289 663.5h1M298 663.5h1M379 663.5h4M385 663.5h2M530.5 663v2M535 663.5h1M537 663.5h1M564 663.5h1M567 663.5h6M577.5 663v2M752.5 663v2M1148.5 663v2M1232 663.5h1M1272.5 663v2M203 664.5h2M252 664.5h1M264 664.5h2M287.5 664v2M290 664.5h1M297 664.5h1M383 664.5h2M534 664.5h1M538 664.5h1M563.5 664v3M573 664.5h2M584 664.5h1M748 664.5h4M1181 664.5h1M1190 664.5h1M1233.5 664v2M1271 664.5h1M266 665.5h2M291 665.5h1M295 665.5h2M531 665.5h1M533 665.5h1M539 665.5h1M575 665.5h2M1149.5 665v2M1180.5 665v2M1191.5 665v2M1201.5 665v3M1268 665.5h3M268 666.5h2M286.5 666v3M292 666.5h3M532 666.5h1M540 666.5h1M576 666.5h1M1234 666.5h1M1268 666.5h1M270 667.5h2M541 667.5h1M562.5 667v4M1150.5 667v2M1179.5 667v3M1192 667.5h1M1235.5 667v2M1267.5 667v4M272 668.5h1M542.5 668v2M1193 668.5h2M1200.5 668v2M1239 668.5h7M273 669.5h2M285.5 669v2M1151.5 669v2M1195 669.5h1M1199 669.5h1M1236 669.5h3M1246 669.5h2M275 670.5h1M543 670.5h1M1178.5 670v2M1196 670.5h3M1248 670.5h3M1260.5 670v2M276 671.5h1M284.5 671v2M544 671.5h3M561.5 671v3M1152 671.5h3M1251 671.5h2M1259.5 671v2M1266.5 671v3M277 672.5h2M547 672.5h4M1155 672.5h4M1177.5 672v3M1253 672.5h1M1261.5 672v2M279 673.5h1M282 673.5h2M551 673.5h4M1159 673.5h2M1254.5 673v2M1258 673.5h1M280 674.5h2M555 674.5h4M560.5 674v2M1161 674.5h1M1257.5 674v2M1262.5 674v2M1265.5 674v4M559 675.5h1M1162 675.5h1M1176.5 675v2M1255 675.5h1M1163 676.5h1M1171 676.5h5M1256 676.5h1M1263.5 676v2M1164 677.5h7M1264.5 678v2" fill="none" stroke="#1e90ff" stroke-width="1"/>
<text x="8.3" y="607" font-size="10.2" fill="#000" stroke="#000" stroke-width="0.15" textLength="67.1" lengthAdjust="spacingAndGlyphs">RSI(14) 44.0567</text>
<text x="1615.5" y="605" font-size="10.2" fill="#000" stroke="#000" stroke-width="0.15" textLength="14.2" lengthAdjust="spacingAndGlyphs">100</text>
<text x="1615.5" y="630" font-size="10.2" fill="#000" stroke="#000" stroke-width="0.15" textLength="9.5" lengthAdjust="spacingAndGlyphs">70</text>
<text x="1615.5" y="671" font-size="10.2" fill="#000" stroke="#000" stroke-width="0.15" textLength="9.5" lengthAdjust="spacingAndGlyphs">30</text>
<text x="1615.5" y="695" font-size="10.2" fill="#000" stroke="#000" stroke-width="0.15" textLength="4.8" lengthAdjust="spacingAndGlyphs">0</text>
<rect x="1612" y="594" width="1" height="1" fill="#000"/>
<rect x="1612" y="698" width="1" height="1" fill="#000"/>
<rect x="12" y="744" width="1" height="4" fill="#c0c0c0"/>
<rect x="16" y="744" width="1" height="6" fill="#c0c0c0"/>
<rect x="20" y="744" width="1" height="9" fill="#c0c0c0"/>
<rect x="24" y="744" width="1" height="11" fill="#c0c0c0"/>
<rect x="28" y="744" width="1" height="13" fill="#c0c0c0"/>
<rect x="32" y="744" width="1" height="18" fill="#c0c0c0"/>
<rect x="36" y="744" width="1" height="21" fill="#c0c0c0"/>
<rect x="40" y="744" width="1" height="23" fill="#c0c0c0"/>
<rect x="44" y="744" width="1" height="23" fill="#c0c0c0"/>
<rect x="48" y="744" width="1" height="23" fill="#c0c0c0"/>
<rect x="52" y="744" width="1" height="20" fill="#c0c0c0"/>
<rect x="56" y="744" width="1" height="18" fill="#c0c0c0"/>
<rect x="60" y="744" width="1" height="18" fill="#c0c0c0"/>
<rect x="64" y="744" width="1" height="15" fill="#c0c0c0"/>
<rect x="68" y="744" width="1" height="13" fill="#c0c0c0"/>
<rect x="72" y="744" width="1" height="11" fill="#c0c0c0"/>
<rect x="76" y="744" width="1" height="9" fill="#c0c0c0"/>
<rect x="80" y="744" width="1" height="8" fill="#c0c0c0"/>
<rect x="84" y="744" width="1" height="6" fill="#c0c0c0"/>
<rect x="88" y="744" width="1" height="6" fill="#c0c0c0"/>
<rect x="92" y="744" width="1" height="6" fill="#c0c0c0"/>
<rect x="96" y="744" width="1" height="4" fill="#c0c0c0"/>
<rect x="100" y="744" width="1" height="2" fill="#c0c0c0"/>
<rect x="104" y="744" width="1" height="2" fill="#c0c0c0"/>
<rect x="108" y="744" width="1" height="2" fill="#c0c0c0"/>
<rect x="112" y="744" width="1" height="2" fill="#c0c0c0"/>
<rect x="116" y="744" width="1" height="1" fill="#c0c0c0"/>
<rect x="120" y="744" width="1" height="1" fill="#c0c0c0"/>
<rect x="124" y="744" width="1" height="1" fill="#c0c0c0"/>
<rect x="128" y="744" width="1" height="1" fill="#c0c0c0"/>
<rect x="132" y="744" width="1" height="1" fill="#c0c0c0"/>
<rect x="136" y="744" width="1" height="1" fill="#c0c0c0"/>
<rect x="140" y="744" width="1" height="1" fill="#c0c0c0"/>
<rect x="144" y="742" width="1" height="3" fill="#c0c0c0"/>
<rect x="148" y="741" width="1" height="4" fill="#c0c0c0"/>
<rect x="152" y="738" width="1" height="7" fill="#c0c0c0"/>
<rect x="156" y="737" width="1" height="8" fill="#c0c0c0"/>
<rect x="160" y="734" width="1" height="11" fill="#c0c0c0"/>
<rect x="164" y="732" width="1" height="13" fill="#c0c0c0"/>
<rect x="168" y="730" width="1" height="15" fill="#c0c0c0"/>
<rect x="172" y="729" width="1" height="16" fill="#c0c0c0"/>
<rect x="176" y="728" width="1" height="17" fill="#c0c0c0"/>
<rect x="180" y="730" width="1" height="15" fill="#c0c0c0"/>
<rect x="184" y="730" width="1" height="15" fill="#c0c0c0"/>
<rect x="188" y="731" width="1" height="14" fill="#c0c0c0"/>
<rect x="192" y="734" width="1" height="11" fill="#c0c0c0"/>
<rect x="196" y="738" width="1" height="7" fill="#c0c0c0"/>
<rect x="200" y="744" width="1" height="1" fill="#c0c0c0"/>
<rect x="204" y="744" width="1" height="9" fill="#c0c0c0"/>
<rect x="208" y="744" width="1" height="11" fill="#c0c0c0"/>
<rect x="212" y="744" width="1" height="14" fill="#c0c0c0"/>
<rect x="216" y="744" width="1" height="16" fill="#c0c0c0"/>
<rect x="220" y="744" width="1" height="18" fill="#c0c0c0"/>
<rect x="224" y="744" width="1" height="19" fill="#c0c0c0"/>
<rect x="228" y="744" width="1" height="22" fill="#c0c0c0"/>
<rect x="232" y="744" width="1" height="23" fill="#c0c0c0"/>
<rect x="236" y="744" width="1" height="24" fill="#c0c0c0"/>
<rect x="240" y="744" width="1" height="26" fill="#c0c0c0"/>
<rect x="244" y="744" width="1" height="25" fill="#c0c0c0"/>
<rect x="248" y="744" width="1" height="26" fill="#c0c0c0"/>
<rect x="252" y="744" width="1" height="28" fill="#c0c0c0"/>
<rect x="256" y="744" width="1" height="26" fill="#c0c0c0"/>
<rect x="260" y="744" width="1" height="27" fill="#c0c0c0"/>
<rect x="264" y="744" width="1" height="29" fill="#c0c0c0"/>
<rect x="268" y="744" width="1" height="31" fill="#c0c0c0"/>
<rect x="272" y="744" width="1" height="33" fill="#c0c0c0"/>
<rect x="276" y="744" width="1" height="35" fill="#c0c0c0"/>
<rect x="280" y="744" width="1" height="40" fill="#c0c0c0"/>
<rect x="284" y="744" width="1" height="43" fill="#c0c0c0"/>
<rect x="288" y="744" width="1" height="42" fill="#c0c0c0"/>
<rect x="292" y="744" width="1" height="43" fill="#c0c0c0"/>
<rect x="296" y="744" width="1" height="42" fill="#c0c0c0"/>
<rect x="300" y="744" width="1" height="42" fill="#c0c0c0"/>
<rect x="304" y="744" width="1" height="39" fill="#c0c0c0"/>
<rect x="308" y="744" width="1" height="35" fill="#c0c0c0"/>
<rect x="312" y="744" width="1" height="33" fill="#c0c0c0"/>
<rect x="316" y="744" width="1" height="30" fill="#c0c0c0"/>
<rect x="320" y="744" width="1" height="27" fill="#c0c0c0"/>
<rect x="324" y="744" width="1" height="27" fill="#c0c0c0"/>
<rect x="328" y="744" width="1" height="24" fill="#c0c0c0"/>
<rect x="332" y="744" width="1" height="21" fill="#c0c0c0"/>
<rect x="336" y="744" width="1" height="17" fill="#c0c0c0"/>
<rect x="340" y="744" width="1" height="12" fill="#c0c0c0"/>
<rect x="344" y="744" width="1" height="9" fill="#c0c0c0"/>
<rect x="348" y="744" width="1" height="6" fill="#c0c0c0"/>
<rect x="352" y="744" width="1" height="1" fill="#c0c0c0"/>
<rect x="356" y="742" width="1" height="3" fill="#c0c0c0"/>
<rect x="360" y="743" width="1" height="2" fill="#c0c0c0"/>
<rect x="364" y="743" width="1" height="2" fill="#c0c0c0"/>
<rect x="368" y="744" width="1" height="1" fill="#c0c0c0"/>
<rect x="372" y="744" width="1" height="3" fill="#c0c0c0"/>
<rect x="376" y="744" width="1" height="9" fill="#c0c0c0"/>
<rect x="380" y="744" width="1" height="13" fill="#c0c0c0"/>
<rect x="384" y="744" width="1" height="17" fill="#c0c0c0"/>
<rect x="388" y="744" width="1" height="19" fill="#c0c0c0"/>
<rect x="392" y="744" width="1" height="20" fill="#c0c0c0"/>
<rect x="396" y="744" width="1" height="18" fill="#c0c0c0"/>
<rect x="400" y="744" width="1" height="15" fill="#c0c0c0"/>
<rect x="404" y="744" width="1" height="11" fill="#c0c0c0"/>
<rect x="408" y="744" width="1" height="9" fill="#c0c0c0"/>
<rect x="412" y="744" width="1" height="5" fill="#c0c0c0"/>
<rect x="416" y="744" width="1" height="1" fill="#c0c0c0"/>
<rect x="420" y="741" width="1" height="4" fill="#c0c0c0"/>
<rect x="424" y="737" width="1" height="8" fill="#c0c0c0"/>
<rect x="428" y="733" width="1" height="12" fill="#c0c0c0"/>
<rect x="432" y="734" width="1" height="11" fill="#c0c0c0"/>
<rect x="436" y="733" width="1" height="12" fill="#c0c0c0"/>
<rect x="440" y="730" width="1" height="15" fill="#c0c0c0"/>
<rect x="444" y="728" width="1" height="17" fill="#c0c0c0"/>
<rect x="448" y="731" width="1" height="14" fill="#c0c0c0"/>
<rect x="452" y="732" width="1" height="13" fill="#c0c0c0"/>
<rect x="456" y="734" width="1" height="11" fill="#c0c0c0"/>
<rect x="460" y="738" width="1" height="7" fill="#c0c0c0"/>
<rect x="464" y="739" width="1" height="6" fill="#c0c0c0"/>
<rect x="468" y="739" width="1" height="6" fill="#c0c0c0"/>
<rect x="472" y="737" width="1" height="8" fill="#c0c0c0"/>
<rect x="476" y="735" width="1" height="10" fill="#c0c0c0"/>
<rect x="480" y="732" width="1" height="13" fill="#c0c0c0"/>
<rect x="484" y="731" width="1" height="14" fill="#c0c0c0"/>
<rect x="488" y="731" width="1" height="14" fill="#c0c0c0"/>
<rect x="492" y="729" width="1" height="16" fill="#c0c0c0"/>
<rect x="496" y="728" width="1" height="17" fill="#c0c0c0"/>
<rect x="500" y="727" width="1" height="18" fill="#c0c0c0"/>
<rect x="504" y="727" width="1" height="18" fill="#c0c0c0"/>
<rect x="508" y="730" width="1" height="15" fill="#c0c0c0"/>
<rect x="512" y="733" width="1" height="12" fill="#c0c0c0"/>
<rect x="516" y="738" width="1" height="7" fill="#c0c0c0"/>
<rect x="520" y="744" width="1" height="1" fill="#c0c0c0"/>
<rect x="524" y="744" width="1" height="6" fill="#c0c0c0"/>
<rect x="528" y="744" width="1" height="10" fill="#c0c0c0"/>
<rect x="532" y="744" width="1" height="16" fill="#c0c0c0"/>
<rect x="536" y="744" width="1" height="19" fill="#c0c0c0"/>
<rect x="540" y="744" width="1" height="23" fill="#c0c0c0"/>
<rect x="544" y="744" width="1" height="29" fill="#c0c0c0"/>
<rect x="548" y="744" width="1" height="35" fill="#c0c0c0"/>
<rect x="552" y="744" width="1" height="39" fill="#c0c0c0"/>
<rect x="556" y="744" width="1" height="44" fill="#c0c0c0"/>
<rect x="560" y="744" width="1" height="47" fill="#c0c0c0"/>
<rect x="564" y="744" width="1" height="46" fill="#c0c0c0"/>
<rect x="568" y="744" width="1" height="45" fill="#c0c0c0"/>
<rect x="572" y="744" width="1" height="44" fill="#c0c0c0"/>
<rect x="576" y="744" width="1" height="46" fill="#c0c0c0"/>
<rect x="580" y="744" width="1" height="43" fill="#c0c0c0"/>
<rect x="584" y="744" width="1" height="44" fill="#c0c0c0"/>
<rect x="588" y="744" width="1" height="43" fill="#c0c0c0"/>
<rect x="592" y="744" width="1" height="40" fill="#c0c0c0"/>
<rect x="596" y="744" width="1" height="39" fill="#c0c0c0"/>
<rect x="600" y="744" width="1" height="37" fill="#c0c0c0"/>
<rect x="604" y="744" width="1" height="36" fill="#c0c0c0"/>
<rect x="608" y="744" width="1" height="33" fill="#c0c0c0"/>
<rect x="612" y="744" width="1" height="32" fill="#c0c0c0"/>
<rect x="616" y="744" width="1" height="32" fill="#c0c0c0"/>
<rect x="620" y="744" width="1" height="32" fill="#c0c0c0"/>
<rect x="624" y="744" width="1" height="29" fill="#c0c0c0"/>
<rect x="628" y="744" width="1" height="28" fill="#c0c0c0"/>
<rect x="632" y="744" width="1" height="28" fill="#c0c0c0"/>
<rect x="636" y="744" width="1" height="28" fill="#c0c0c0"/>
<rect x="640" y="744" width="1" height="28" fill="#c0c0c0"/>
<rect x="644" y="744" width="1" height="29" fill="#c0c0c0"/>
<rect x="648" y="744" width="1" height="29" fill="#c0c0c0"/>
<rect x="652" y="744" width="1" height="26" fill="#c0c0c0"/>
<rect x="656" y="744" width="1" height="21" fill="#c0c0c0"/>
<rect x="660" y="744" width="1" height="15" fill="#c0c0c0"/>
<rect x="664" y="744" width="1" height="8" fill="#c0c0c0"/>
<rect x="668" y="744" width="1" height="3" fill="#c0c0c0"/>
<rect x="672" y="742" width="1" height="3" fill="#c0c0c0"/>
<rect x="676" y="738" width="1" height="7" fill="#c0c0c0"/>
<rect x="680" y="736" width="1" height="9" fill="#c0c0c0"/>
<rect x="684" y="733" width="1" height="12" fill="#c0c0c0"/>
<rect x="688" y="730" width="1" height="15" fill="#c0c0c0"/>
<rect x="692" y="728" width="1" height="17" fill="#c0c0c0"/>
<rect x="696" y="728" width="1" height="17" fill="#c0c0c0"/>
<rect x="700" y="728" width="1" height="17" fill="#c0c0c0"/>
<rect x="704" y="730" width="1" height="15" fill="#c0c0c0"/>
<rect x="708" y="735" width="1" height="10" fill="#c0c0c0"/>
<rect x="712" y="740" width="1" height="5" fill="#c0c0c0"/>
<rect x="716" y="744" width="1" height="1" fill="#c0c0c0"/>
<rect x="720" y="744" width="1" height="4" fill="#c0c0c0"/>
<rect x="724" y="744" width="1" height="5" fill="#c0c0c0"/>
<rect x="728" y="744" width="1" height="8" fill="#c0c0c0"/>
<rect x="732" y="744" width="1" height="11" fill="#c0c0c0"/>
<rect x="736" y="744" width="1" height="12" fill="#c0c0c0"/>
<rect x="740" y="744" width="1" height="13" fill="#c0c0c0"/>
<rect x="744" y="744" width="1" height="15" fill="#c0c0c0"/>
<rect x="748" y="744" width="1" height="18" fill="#c0c0c0"/>
<rect x="752" y="744" width="1" height="22" fill="#c0c0c0"/>
<rect x="756" y="744" width="1" height="20" fill="#c0c0c0"/>
<rect x="760" y="744" width="1" height="18" fill="#c0c0c0"/>
<rect x="764" y="744" width="1" height="17" fill="#c0c0c0"/>
<rect x="768" y="744" width="1" height="17" fill="#c0c0c0"/>
<rect x="772" y="744" width="1" height="17" fill="#c0c0c0"/>
<rect x="776" y="744" width="1" height="17" fill="#c0c0c0"/>
<rect x="780" y="744" width="1" height="15" fill="#c0c0c0"/>
<rect x="784" y="744" width="1" height="11" fill="#c0c0c0"/>
<rect x="788" y="744" width="1" height="7" fill="#c0c0c0"/>
<rect x="792" y="744" width="1" height="6" fill="#c0c0c0"/>
<rect x="796" y="744" width="1" height="6" fill="#c0c0c0"/>
<rect x="800" y="744" width="1" height="7" fill="#c0c0c0"/>
<rect x="804" y="744" width="1" height="1" fill="#c0c0c0"/>
<rect x="808" y="741" width="1" height="4" fill="#c0c0c0"/>
<rect x="812" y="737" width="1" height="8" fill="#c0c0c0"/>
<rect x="816" y="733" width="1" height="12" fill="#c0c0c0"/>
<rect x="820" y="730" width="1" height="15" fill="#c0c0c0"/>
<rect x="824" y="729" width="1" height="16" fill="#c0c0c0"/>
<rect x="828" y="730" width="1" height="15" fill="#c0c0c0"/>
<rect x="832" y="731" width="1" height="14" fill="#c0c0c0"/>
<rect x="836" y="732" width="1" height="13" fill="#c0c0c0"/>
<rect x="840" y="731" width="1" height="14" fill="#c0c0c0"/>
<rect x="844" y="730" width="1" height="15" fill="#c0c0c0"/>
<rect x="848" y="728" width="1" height="17" fill="#c0c0c0"/>
<rect x="852" y="726" width="1" height="19" fill="#c0c0c0"/>
<rect x="856" y="723" width="1" height="22" fill="#c0c0c0"/>
<rect x="860" y="721" width="1" height="24" fill="#c0c0c0"/>
<rect x="864" y="720" width="1" height="25" fill="#c0c0c0"/>
<rect x="868" y="720" width="1" height="25" fill="#c0c0c0"/>
<rect x="872" y="721" width="1" height="24" fill="#c0c0c0"/>
<rect x="876" y="722" width="1" height="23" fill="#c0c0c0"/>
<rect x="880" y="724" width="1" height="21" fill="#c0c0c0"/>
<rect x="884" y="727" width="1" height="18" fill="#c0c0c0"/>
<rect x="888" y="730" width="1" height="15" fill="#c0c0c0"/>
<rect x="892" y="733" width="1" height="12" fill="#c0c0c0"/>
<rect x="896" y="736" width="1" height="9" fill="#c0c0c0"/>
<rect x="900" y="742" width="1" height="3" fill="#c0c0c0"/>
<rect x="904" y="744" width="1" height="1" fill="#c0c0c0"/>
<rect x="908" y="744" width="1" height="2" fill="#c0c0c0"/>
<rect x="912" y="744" width="1" height="4" fill="#c0c0c0"/>
<rect x="916" y="744" width="1" height="4" fill="#c0c0c0"/>
<rect x="920" y="744" width="1" height="6" fill="#c0c0c0"/>
<rect x="924" y="744" width="1" height="7" fill="#c0c0c0"/>
<rect x="928" y="744" width="1" height="9" fill="#c0c0c0"/>
<rect x="932" y="744" width="1" height="11" fill="#c0c0c0"/>
<rect x="936" y="744" width="1" height="13" fill="#c0c0c0"/>
<rect x="940" y="744" width="1" height="13" fill="#c0c0c0"/>
<rect x="944" y="744" width="1" height="14" fill="#c0c0c0"/>
<rect x="948" y="744" width="1" height="15" fill="#c0c0c0"/>
<rect x="952" y="744" width="1" height="16" fill="#c0c0c0"/>
<rect x="956" y="744" width="1" height="17" fill="#c0c0c0"/>
<rect x="960" y="744" width="1" height="14" fill="#c0c0c0"/>
<rect x="964" y="744" width="1" height="9" fill="#c0c0c0"/>
<rect x="968" y="744" width="1" height="5" fill="#c0c0c0"/>
<rect x="972" y="744" width="1" height="4" fill="#c0c0c0"/>
<rect x="976" y="744" width="1" height="2" fill="#c0c0c0"/>
<rect x="980" y="744" width="1" height="1" fill="#c0c0c0"/>
<rect x="984" y="744" width="1" height="1" fill="#c0c0c0"/>
<rect x="988" y="744" width="1" height="1" fill="#c0c0c0"/>
<rect x="992" y="742" width="1" height="3" fill="#c0c0c0"/>
<rect x="996" y="737" width="1" height="8" fill="#c0c0c0"/>
<rect x="1000" y="735" width="1" height="10" fill="#c0c0c0"/>
<rect x="1004" y="734" width="1" height="11" fill="#c0c0c0"/>
<rect x="1008" y="731" width="1" height="14" fill="#c0c0c0"/>
<rect x="1012" y="732" width="1" height="13" fill="#c0c0c0"/>
<rect x="1016" y="732" width="1" height="13" fill="#c0c0c0"/>
<rect x="1020" y="732" width="1" height="13" fill="#c0c0c0"/>
<rect x="1024" y="730" width="1" height="15" fill="#c0c0c0"/>
<rect x="1028" y="729" width="1" height="16" fill="#c0c0c0"/>
<rect x="1032" y="727" width="1" height="18" fill="#c0c0c0"/>
<rect x="1036" y="725" width="1" height="20" fill="#c0c0c0"/>
<rect x="1040" y="724" width="1" height="21" fill="#c0c0c0"/>
<rect x="1044" y="722" width="1" height="23" fill="#c0c0c0"/>
<rect x="1048" y="718" width="1" height="27" fill="#c0c0c0"/>
<rect x="1052" y="716" width="1" height="29" fill="#c0c0c0"/>
<rect x="1056" y="713" width="1" height="32" fill="#c0c0c0"/>
<rect x="1060" y="709" width="1" height="36" fill="#c0c0c0"/>
<rect x="1064" y="707" width="1" height="38" fill="#c0c0c0"/>
<rect x="1068" y="707" width="1" height="38" fill="#c0c0c0"/>
<rect x="1072" y="711" width="1" height="34" fill="#c0c0c0"/>
<rect x="1076" y="712" width="1" height="33" fill="#c0c0c0"/>
<rect x="1080" y="718" width="1" height="27" fill="#c0c0c0"/>
<rect x="1084" y="726" width="1" height="19" fill="#c0c0c0"/>
<rect x="1088" y="733" width="1" height="12" fill="#c0c0c0"/>
<rect x="1092" y="739" width="1" height="6" fill="#c0c0c0"/>
<rect x="1096" y="740" width="1" height="5" fill="#c0c0c0"/>
<rect x="1100" y="741" width="1" height="4" fill="#c0c0c0"/>
<rect x="1104" y="742" width="1" height="3" fill="#c0c0c0"/>
<rect x="1108" y="743" width="1" height="2" fill="#c0c0c0"/>
<rect x="1112" y="744" width="1" height="1" fill="#c0c0c0"/>
<rect x="1116" y="744" width="1" height="1" fill="#c0c0c0"/>
<rect x="1120" y="744" width="1" height="3" fill="#c0c0c0"/>
<rect x="1124" y="744" width="1" height="4" fill="#c0c0c0"/>
<rect x="1128" y="744" width="1" height="6" fill="#c0c0c0"/>
<rect x="1132" y="744" width="1" height="8" fill="#c0c0c0"/>
<rect x="1136" y="744" width="1" height="11" fill="#c0c0c0"/>
<rect x="1140" y="744" width="1" height="12" fill="#c0c0c0"/>
<rect x="1144" y="744" width="1" height="15" fill="#c0c0c0"/>
<rect x="1148" y="744" width="1" height="17" fill="#c0c0c0"/>
<rect x="1152" y="744" width="1" height="22" fill="#c0c0c0"/>
<rect x="1156" y="744" width="1" height="27" fill="#c0c0c0"/>
<rect x="1160" y="744" width="1" height="31" fill="#c0c0c0"/>
<rect x="1164" y="744" width="1" height="36" fill="#c0c0c0"/>
<rect x="1168" y="744" width="1" height="40" fill="#c0c0c0"/>
<rect x="1172" y="744" width="1" height="43" fill="#c0c0c0"/>
<rect x="1176" y="744" width="1" height="45" fill="#c0c0c0"/>
<rect x="1180" y="744" width="1" height="44" fill="#c0c0c0"/>
<rect x="1184" y="744" width="1" height="41" fill="#c0c0c0"/>
<rect x="1188" y="744" width="1" height="39" fill="#c0c0c0"/>
<rect x="1192" y="744" width="1" height="41" fill="#c0c0c0"/>
<rect x="1196" y="744" width="1" height="42" fill="#c0c0c0"/>
<rect x="1200" y="744" width="1" height="42" fill="#c0c0c0"/>
<rect x="1204" y="744" width="1" height="39" fill="#c0c0c0"/>
<rect x="1208" y="744" width="1" height="35" fill="#c0c0c0"/>
<rect x="1212" y="744" width="1" height="32" fill="#c0c0c0"/>
<rect x="1216" y="744" width="1" height="30" fill="#c0c0c0"/>
<rect x="1220" y="744" width="1" height="29" fill="#c0c0c0"/>
<rect x="1224" y="744" width="1" height="28" fill="#c0c0c0"/>
<rect x="1228" y="744" width="1" height="27" fill="#c0c0c0"/>
<rect x="1232" y="744" width="1" height="28" fill="#c0c0c0"/>
<rect x="1236" y="744" width="1" height="32" fill="#c0c0c0"/>
<rect x="1240" y="744" width="1" height="34" fill="#c0c0c0"/>
<rect x="1244" y="744" width="1" height="35" fill="#c0c0c0"/>
<rect x="1248" y="744" width="1" height="37" fill="#c0c0c0"/>
<rect x="1252" y="744" width="1" height="38" fill="#c0c0c0"/>
<rect x="1256" y="744" width="1" height="42" fill="#c0c0c0"/>
<rect x="1260" y="744" width="1" height="44" fill="#c0c0c0"/>
<rect x="1264" y="744" width="1" height="52" fill="#c0c0c0"/>
<rect x="1268" y="744" width="1" height="54" fill="#c0c0c0"/>
<rect x="1272" y="744" width="1" height="55" fill="#c0c0c0"/>
<rect x="1276" y="744" width="1" height="48" fill="#c0c0c0"/>
<rect x="1280" y="744" width="1" height="44" fill="#c0c0c0"/>
<path d="M1079 711.5h2M1078 712.5h1M1084 712.5h3M1072 713.5h3M1067 715.5h2M1090 715.5h1M1066 716.5h1M1091 716.5h1M1092 717.5h1M1061 718.5h2M1060 719.5h1M1096 720.5h1M1056 721.5h1M1097 721.5h1M875 722.5h2M880 722.5h3M886 722.5h3M1054 722.5h2M1098 722.5h1M874 723.5h1M892 723.5h3M868 724.5h3M1050 724.5h1M898 725.5h1M1048 725.5h2M863 726.5h2M899 726.5h1M1044 726.5h1M1102 726.5h1M862 727.5h1M900 727.5h1M1042 727.5h2M1103 727.5h1M856 728.5h3M1104 728.5h1M504 729.5h1M508 729.5h3M514 729.5h1M850 729.5h3M1036 729.5h3M190 730.5h3M196 730.5h2M502 730.5h2M515 730.5h2M520 730.5h1M844 730.5h3M904 730.5h1M1031 730.5h2M180 731.5h1M184 731.5h3M198 731.5h1M455 731.5h2M521 731.5h2M706 731.5h3M712 731.5h3M840 731.5h1M905 731.5h2M1030 731.5h1M178 732.5h2M454 732.5h1M460 732.5h3M466 732.5h1M496 732.5h3M702 732.5h1M838 732.5h2M1026 732.5h1M1108 732.5h1M202 733.5h1M448 733.5h3M467 733.5h2M472 733.5h3M491 733.5h2M700 733.5h2M718 733.5h2M1024 733.5h2M1109 733.5h2M172 734.5h3M203 734.5h1M478 734.5h3M484 734.5h3M490 734.5h1M526 734.5h1M720 734.5h1M832 734.5h3M910 734.5h1M1020 734.5h1M204 735.5h1M444 735.5h1M527 735.5h1M911 735.5h1M1018 735.5h2M168 736.5h1M442 736.5h2M528 736.5h1M696 736.5h1M724 736.5h2M828 736.5h1M912 736.5h1M1114 736.5h2M166 737.5h2M695 737.5h1M726 737.5h1M827 737.5h1M1012 737.5h3M1116 737.5h1M208 738.5h1M694 738.5h1M826 738.5h1M916 738.5h1M1008 738.5h1M160 739.5h3M209 739.5h2M437 739.5h2M532 739.5h1M730 739.5h1M917 739.5h2M1006 739.5h2M155 740.5h2M436 740.5h1M533 740.5h1M731 740.5h1M1120 740.5h2M154 741.5h1M534 741.5h1M690 741.5h1M732 741.5h1M821 741.5h2M1002 741.5h1M1122 741.5h1M148 742.5h3M214 742.5h1M689 742.5h1M820 742.5h1M922 742.5h2M1000 742.5h2M1126 742.5h1M143 743.5h2M215 743.5h1M688 743.5h1M924 743.5h1M1127 743.5h2M131 744.5h2M136 744.5h3M142 744.5h1M216 744.5h1M432 744.5h1M736 744.5h1M996 744.5h1M124 745.5h3M130 745.5h1M431 745.5h1M538.5 745v2M737 745.5h2M816 745.5h1M994 745.5h2M1132 745.5h2M118 746.5h3M371 746.5h2M376 746.5h3M430 746.5h1M814 746.5h2M928 746.5h2M1134 746.5h1M112 747.5h3M220 747.5h1M370 747.5h1M382 747.5h1M539 747.5h1M684 747.5h1M930 747.5h1M990 747.5h1M1138 747.5h1M12 748.5h1M16 748.5h3M22 748.5h1M107 748.5h2M221 748.5h1M383 748.5h2M683 748.5h1M742 748.5h1M934 748.5h1M988 748.5h2M1139 748.5h2M10 749.5h2M23 749.5h2M28 749.5h2M106 749.5h1M222 749.5h1M365 749.5h2M425 749.5h2M682 749.5h1M743 749.5h1M809 749.5h2M935 749.5h2M984 749.5h1M30 750.5h1M100 750.5h3M364 750.5h1M388 750.5h2M424 750.5h1M744 750.5h1M808 750.5h1M982 750.5h2M1144 750.5h3M4 751.5h3M34 751.5h1M390 751.5h1M542 751.5h1M940 751.5h3M35 752.5h2M95 752.5h2M226 752.5h1M360 752.5h1M543 752.5h1M804 752.5h1M946 752.5h1M978 752.5h1M1150 752.5h2M94 753.5h1M227 753.5h1M359 753.5h1M394 753.5h1M420 753.5h1M544 753.5h1M679 753.5h1M748 753.5h2M802 753.5h2M947 753.5h2M976 753.5h2M1152 753.5h1M88 754.5h3M228 754.5h1M358 754.5h1M395 754.5h1M419 754.5h1M678 754.5h1M750 754.5h1M972 754.5h1M40 755.5h2M396 755.5h1M418 755.5h1M677 755.5h1M796 755.5h3M952 755.5h3M970 755.5h2M42 756.5h1M83 756.5h2M400 756.5h3M754 756.5h2M792 756.5h1M958 756.5h3M964 756.5h3M82 757.5h1M232 757.5h1M353 757.5h2M406 757.5h1M412 757.5h3M547 757.5h1M756 757.5h1M790 757.5h2M1156 757.5h1M46 758.5h2M78 758.5h1M233 758.5h2M352 758.5h1M407 758.5h2M548 758.5h1M760 758.5h3M1157 758.5h2M48 759.5h1M76 759.5h2M549 759.5h1M673 759.5h1M766 759.5h1M784 759.5h3M672 760.5h1M767 760.5h2M772 760.5h3M778 760.5h3M52 761.5h3M71 761.5h2M238 761.5h2M348 761.5h1M671 761.5h1M58 762.5h1M70 762.5h1M240 762.5h1M347 762.5h1M1162 762.5h1M59 763.5h2M64 763.5h3M346 763.5h1M552 763.5h1M1163 763.5h1M244 764.5h3M553 764.5h1M667 764.5h1M1164 764.5h1M250 765.5h1M554 765.5h1M665 765.5h2M251 766.5h2M341 766.5h2M340 767.5h1M1168 767.5h1M256 768.5h3M660 768.5h2M1169 768.5h1M262 769.5h3M557 769.5h1M659 769.5h1M1170 769.5h1M268 770.5h3M558 770.5h1M655 770.5h1M274 771.5h1M336 771.5h1M559 771.5h1M653 771.5h2M275 772.5h2M334 772.5h2M647 772.5h3M1174 772.5h1M641 773.5h3M1175 773.5h1M280 774.5h3M330 774.5h1M635 774.5h3M1176 774.5h1M1236 774.5h1M1240 774.5h3M1246 774.5h3M328 775.5h2M563 775.5h1M631 775.5h1M1234 775.5h2M1252 775.5h3M286 776.5h2M564 776.5h1M629 776.5h2M288 777.5h1M324 777.5h1M565 777.5h1M624 777.5h2M1180 777.5h1M1228 777.5h3M1258 777.5h2M323 778.5h1M623 778.5h1M1181 778.5h2M1223 778.5h2M1260 778.5h1M292 779.5h3M322 779.5h1M1222 779.5h1M569 780.5h1M618 780.5h2M1186 780.5h1M1216 780.5h3M298 781.5h2M316 781.5h3M570 781.5h2M617 781.5h1M1187 781.5h2M1264 781.5h1M300 782.5h1M611 782.5h3M1212 782.5h1M1265 782.5h2M304 783.5h3M310 783.5h3M1192 783.5h3M1210 783.5h2M575 784.5h1M606 784.5h2M1198 784.5h3M576 785.5h2M605 785.5h1M1204 785.5h3M1270 785.5h2M581 786.5h2M599 786.5h3M1272 786.5h1M583 787.5h1M593 787.5h3M1276 787.5h1M587 788.5h3" fill="none" stroke="#ff0000" stroke-width="1"/>
<text x="8.3" y="713" font-size="10.2" fill="#000" stroke="#000" stroke-width="0.15" textLength="153.0" lengthAdjust="spacingAndGlyphs">MACD(12,26,9) -0.005261 -0.005481</text>
<text x="1615.3" y="711" font-size="10.2" fill="#000" stroke="#000" stroke-width="0.15" textLength="37.5" lengthAdjust="spacingAndGlyphs">0.005121</text>
<text x="1615.3" y="748" font-size="10.2" fill="#000" stroke="#000" stroke-width="0.15" textLength="17.3" lengthAdjust="spacingAndGlyphs">0.00</text>
<text x="1615.3" y="801" font-size="10.2" fill="#000" stroke="#000" stroke-width="0.15" textLength="34.8" lengthAdjust="spacingAndGlyphs">-0.00711</text>
<rect x="1612" y="744" width="1" height="1" fill="#000"/>
<rect x="1612" y="700" width="1" height="1" fill="#000"/>
<rect x="1612" y="803" width="1" height="1" fill="#000"/>
<rect x="4" y="804" width="1" height="3" fill="#000"/>
<text x="3" y="816" font-size="10.2" fill="#000" stroke="#000" stroke-width="0.15" textLength="52.0" lengthAdjust="spacingAndGlyphs">26 Feb 2019</text>
<rect x="68" y="804" width="1" height="3" fill="#000"/>
<text x="67" y="816" font-size="10.2" fill="#000" stroke="#000" stroke-width="0.15" textLength="52.0" lengthAdjust="spacingAndGlyphs">16 Mar 2019</text>
<rect x="132" y="804" width="1" height="3" fill="#000"/>
<text x="131" y="816" font-size="10.2" fill="#000" stroke="#000" stroke-width="0.15" textLength="44.8" lengthAdjust="spacingAndGlyphs">4 Apr 2019</text>
<rect x="196" y="804" width="1" height="3" fill="#000"/>
<text x="195" y="816" font-size="10.2" fill="#000" stroke="#000" stroke-width="0.15" textLength="49.9" lengthAdjust="spacingAndGlyphs">23 Apr 2019</text>
<rect x="260" y="804" width="1" height="3" fill="#000"/>
<text x="259" y="816" font-size="10.2" fill="#000" stroke="#000" stroke-width="0.15" textLength="52.9" lengthAdjust="spacingAndGlyphs">11 May 2019</text>
<rect x="324" y="804" width="1" height="3" fill="#000"/>
<text x="323" y="816" font-size="10.2" fill="#000" stroke="#000" stroke-width="0.15" textLength="53.5" lengthAdjust="spacingAndGlyphs">30 May 2019</text>
<rect x="388" y="804" width="1" height="3" fill="#000"/>
<text x="387" y="816" font-size="10.2" fill="#000" stroke="#000" stroke-width="0.15" textLength="51.0" lengthAdjust="spacingAndGlyphs">18 Jun 2019</text>
<rect x="452" y="804" width="1" height="3" fill="#000"/>
<text x="451" y="816" font-size="10.2" fill="#000" stroke="#000" stroke-width="0.15" textLength="42.7" lengthAdjust="spacingAndGlyphs">6 Jul 2019</text>
<rect x="516" y="804" width="1" height="3" fill="#000"/>
<text x="515" y="816" font-size="10.2" fill="#000" stroke="#000" stroke-width="0.15" textLength="47.9" lengthAdjust="spacingAndGlyphs">25 Jul 2019</text>
<rect x="580" y="804" width="1" height="3" fill="#000"/>
<text x="579" y="816" font-size="10.2" fill="#000" stroke="#000" stroke-width="0.15" textLength="52.0" lengthAdjust="spacingAndGlyphs">13 Aug 2019</text>
<rect x="644" y="804" width="1" height="3" fill="#000"/>
<text x="643" y="816" font-size="10.2" fill="#000" stroke="#000" stroke-width="0.15" textLength="52.0" lengthAdjust="spacingAndGlyphs">31 Aug 2019</text>
<rect x="708" y="804" width="1" height="3" fill="#000"/>
<text x="707" y="816" font-size="10.2" fill="#000" stroke="#000" stroke-width="0.15" textLength="52.5" lengthAdjust="spacingAndGlyphs">19 Sep 2019</text>
<rect x="772" y="804" width="1" height="3" fill="#000"/>
<text x="771" y="816" font-size="10.2" fill="#000" stroke="#000" stroke-width="0.15" textLength="45.3" lengthAdjust="spacingAndGlyphs">8 Oct 2019</text>
<rect x="836" y="804" width="1" height="3" fill="#000"/>
<text x="835" y="816" font-size="10.2" fill="#000" stroke="#000" stroke-width="0.15" textLength="50.5" lengthAdjust="spacingAndGlyphs">26 Oct 2019</text>
<rect x="900" y="804" width="1" height="3" fill="#000"/>
<text x="899" y="816" font-size="10.2" fill="#000" stroke="#000" stroke-width="0.15" textLength="52.5" lengthAdjust="spacingAndGlyphs">14 Nov 2019</text>
<rect x="964" y="804" width="1" height="3" fill="#000"/>
<text x="963" y="816" font-size="10.2" fill="#000" stroke="#000" stroke-width="0.15" textLength="47.4" lengthAdjust="spacingAndGlyphs">3 Dec 2019</text>
<rect x="1028" y="804" width="1" height="3" fill="#000"/>
<text x="1027" y="816" font-size="10.2" fill="#000" stroke="#000" stroke-width="0.15" textLength="52.5" lengthAdjust="spacingAndGlyphs">21 Dec 2019</text>
<rect x="1092" y="804" width="1" height="3" fill="#000"/>
<text x="1091" y="816" font-size="10.2" fill="#000" stroke="#000" stroke-width="0.15" textLength="45.8" lengthAdjust="spacingAndGlyphs">9 Jan 2020</text>
<rect x="1156" y="804" width="1" height="3" fill="#000"/>
<text x="1155" y="816" font-size="10.2" fill="#000" stroke="#000" stroke-width="0.15" textLength="51.0" lengthAdjust="spacingAndGlyphs">28 Jan 2020</text>
<rect x="1220" y="804" width="1" height="3" fill="#000"/>
<text x="1219" y="816" font-size="10.2" fill="#000" stroke="#000" stroke-width="0.15" textLength="52.0" lengthAdjust="spacingAndGlyphs">15 Feb 2020</text>
<rect x="0" y="824" width="1652" height="1" fill="#e6e6e6"/>
<rect x="0" y="825" width="1652" height="25" fill="#f0f0f0"/>
<rect x="0" y="826" width="1652" height="1" fill="#000"/>
<rect x="0" y="827" width="1" height="18" fill="#404040"/>
<rect x="0" y="846" width="1652" height="1" fill="#fafafa"/>
<rect x="209" y="825" width="104" height="20" fill="#fff"/>
<rect x="209" y="826" width="1" height="19" fill="#000"/>
<rect x="312" y="826" width="1" height="19" fill="#000"/>
<rect x="313" y="827" width="1" height="19" fill="#6a6a6a"/>
<rect x="209" y="844" width="104" height="1" fill="#000"/>
<rect x="210" y="845" width="104" height="1" fill="#6a6a6a"/>
<rect x="210" y="826" width="102" height="1" fill="#fff"/>
<text x="17.6" y="840.7" font-size="12.9" fill="#666" textLength="79.4" lengthAdjust="spacingAndGlyphs">EURUSD,Daily</text>
<text x="119" y="840.7" font-size="12.9" fill="#666" textLength="79.0" lengthAdjust="spacingAndGlyphs">USDCHF,Daily</text>
<text x="220.2" y="840.7" font-size="12.9" fill="#000" textLength="81.3" lengthAdjust="spacingAndGlyphs">AUDUSD,Daily</text>
<text x="324.4" y="840.7" font-size="12.9" fill="#666" textLength="80.0" lengthAdjust="spacingAndGlyphs">USDCAD,Daily</text>
<text x="427.1" y="840.7" font-size="12.9" fill="#666" textLength="83.1" lengthAdjust="spacingAndGlyphs">USDCNH,Daily</text>
<text x="533.2" y="840.7" font-size="12.9" fill="#666" textLength="67.1" lengthAdjust="spacingAndGlyphs">EURUSD,H1</text>
<text x="624.7" y="840.7" font-size="12.9" fill="#666" textLength="80.3" lengthAdjust="spacingAndGlyphs">GBPUSD,Daily</text>
<text x="727.8" y="840.7" font-size="12.9" fill="#666" textLength="68.2" lengthAdjust="spacingAndGlyphs">XAUUSD,H1</text>
<text x="820.3" y="840.7" font-size="12.9" fill="#666" textLength="49.2" lengthAdjust="spacingAndGlyphs">HK50,H1</text>
<text x="892.2" y="840.7" font-size="12.9" fill="#666" textLength="68.8" lengthAdjust="spacingAndGlyphs">UK100,Daily</text>
<text x="984" y="840.7" font-size="12.9" fill="#666" textLength="56.7" lengthAdjust="spacingAndGlyphs">UK100,H1</text>
<text x="1063.7" y="840.7" font-size="12.9" fill="#666" textLength="56.6" lengthAdjust="spacingAndGlyphs">GER30,H1</text>
<text x="1143" y="840.7" font-size="12.9" fill="#666" textLength="54.3" lengthAdjust="spacingAndGlyphs">FRA40,H1</text>
<rect x="109" y="829" width="1" height="14" fill="#505050"/>
<rect x="417" y="829" width="1" height="14" fill="#505050"/>
<rect x="521" y="829" width="1" height="14" fill="#505050"/>
<rect x="613" y="829" width="1" height="14" fill="#505050"/>
<rect x="717" y="829" width="1" height="14" fill="#505050"/>
<rect x="809" y="829" width="1" height="14" fill="#505050"/>
<rect x="881" y="829" width="1" height="14" fill="#505050"/>
<rect x="973" y="829" width="1" height="14" fill="#505050"/>
<rect x="1053" y="829" width="1" height="14" fill="#505050"/>
<rect x="1133" y="829" width="1" height="14" fill="#505050"/>
<rect x="1210" y="829" width="1" height="14" fill="#505050"/>
<path d="M1630.3,832 L1630.3,838.2 L1626.8,835.1 Z" fill="#8c8c8c" style="shape-rendering:geometricPrecision"/>
<path d="M1646,832 L1646,838.2 L1649.5,835.1 Z" fill="#8c8c8c" style="shape-rendering:geometricPrecision"/>
</svg>
</body></html>
